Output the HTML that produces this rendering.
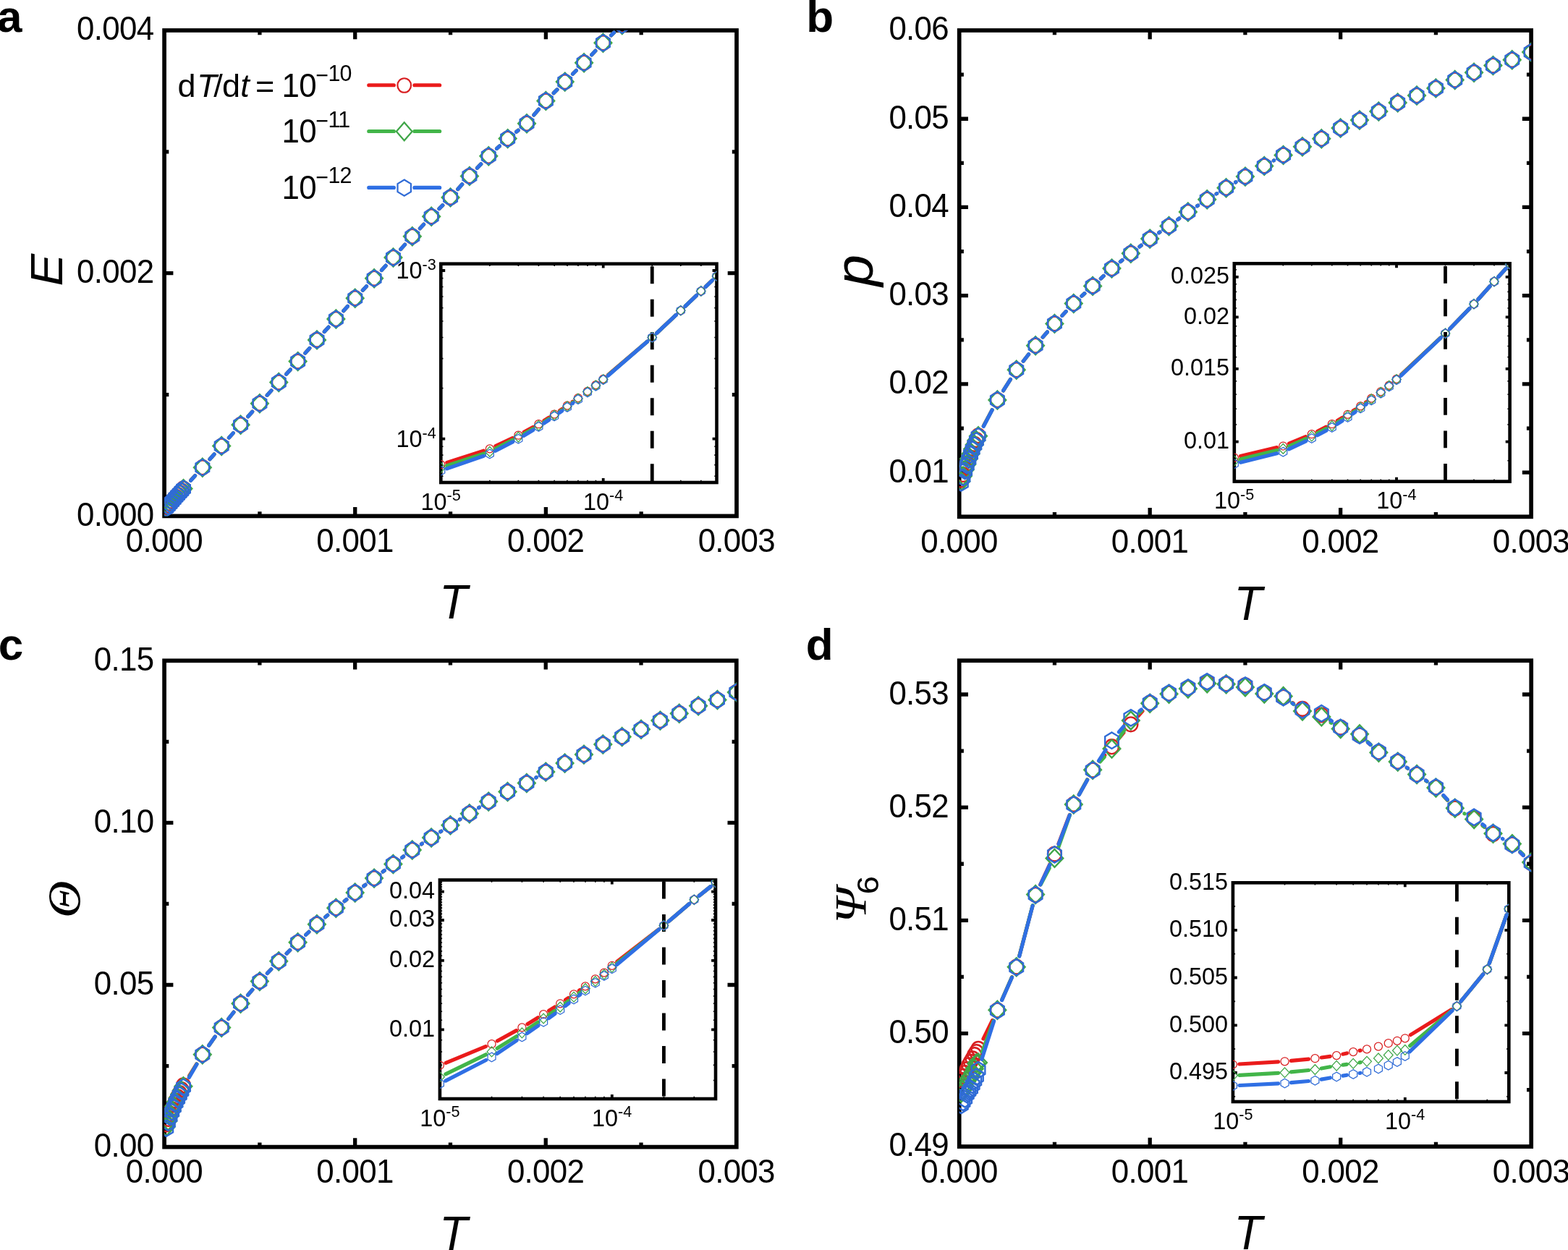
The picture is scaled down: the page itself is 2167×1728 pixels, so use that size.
<!DOCTYPE html>
<html lang="en">
<head>
<meta charset="utf-8">
<title>Figure: E, p, Theta, Psi6 versus T</title>
<style>
html,body{margin:0;padding:0;background:#fff;}
body{width:2167px;height:1728px;overflow:hidden;}
svg{display:block;}
text{font-family:"Liberation Sans", Arial, Helvetica, sans-serif;fill:#000;}
text.sf{font-family:"Liberation Serif","Times New Roman",Times,serif;}
</style>
</head>
<body>
<svg xmlns="http://www.w3.org/2000/svg" width="2167" height="1728" viewBox="0 0 2167 1728">
<rect width="2167" height="1728" fill="#fff"/>
<defs><clipPath id="ca"><rect x="227.1" y="42" width="790.9" height="671.4"/></clipPath><clipPath id="ia"><rect x="609.3" y="364.7" width="381.2" height="302.3"/></clipPath><clipPath id="cb"><rect x="1325.7" y="42" width="790.4" height="672.3"/></clipPath><clipPath id="ib"><rect x="1705.8" y="364.3" width="380.8" height="301.3"/></clipPath><clipPath id="cc"><rect x="227.1" y="913.3" width="790.7" height="672.3"/></clipPath><clipPath id="ic"><rect x="607.9" y="1216.5" width="381.1" height="302.5"/></clipPath><clipPath id="cd"><rect x="1325.7" y="913.2" width="790.5" height="671.8"/></clipPath><clipPath id="id"><rect x="1703.9" y="1220.3" width="381.4" height="302.7"/></clipPath></defs>

<!-- panel a -->
<rect x="227.1" y="42" width="790.9" height="671.4" stroke="#000" stroke-width="5.7" fill="none"/><path d="M490.73 713.4v-12.3M490.73 42v12.3M754.37 713.4v-12.3M754.37 42v12.3M358.92 713.4v-6.2M358.92 42v6.2M622.55 713.4v-6.2M622.55 42v6.2M886.18 713.4v-6.2M886.18 42v6.2M227.1 377.7h12.3M1018 377.7h-12.3M227.1 545.55h6.2M1018 545.55h-6.2M227.1 209.85h6.2M1018 209.85h-6.2" stroke="#000" stroke-width="5.3" fill="none"/><text x="238.84" y="763.1" font-size="46.2" text-anchor="middle" letter-spacing="-0.74" transform="scale(0.95 1)">0.000</text><text x="516.35" y="763.1" font-size="46.2" text-anchor="middle" letter-spacing="-0.74" transform="scale(0.95 1)">0.001</text><text x="793.86" y="763.1" font-size="46.2" text-anchor="middle" letter-spacing="-0.74" transform="scale(0.95 1)">0.002</text><text x="1071.37" y="763.1" font-size="46.2" text-anchor="middle" letter-spacing="-0.74" transform="scale(0.95 1)">0.003</text><text x="223.58" y="726.9" font-size="46.2" text-anchor="end" letter-spacing="-0.74" transform="scale(0.95 1)">0.000</text><text x="223.58" y="391.2" font-size="46.2" text-anchor="end" letter-spacing="-0.74" transform="scale(0.95 1)">0.002</text><text x="223.58" y="55.5" font-size="46.2" text-anchor="end" letter-spacing="-0.74" transform="scale(0.95 1)">0.004</text><rect x="609.3" y="364.7" width="381.2" height="302.3" stroke="#000" stroke-width="4.6" fill="none"/><path d="M833.7 667v-5.9M833.7 364.7v5.9M609.3 374h5.9M990.5 374h-5.9M609.3 606.6h5.9M990.5 606.6h-5.9" stroke="#000" stroke-width="3.8" fill="none"/><path d="M676.85 667v-3.2M676.85 364.7v3.2M716.37 667v-3.2M716.37 364.7v3.2M744.4 667v-3.2M744.4 364.7v3.2M766.15 667v-3.2M766.15 364.7v3.2M783.92 667v-3.2M783.92 364.7v3.2M798.94 667v-3.2M798.94 364.7v3.2M811.95 667v-3.2M811.95 364.7v3.2M823.43 667v-3.2M823.43 364.7v3.2M901.25 667v-3.2M901.25 364.7v3.2M940.77 667v-3.2M940.77 364.7v3.2M968.8 667v-3.2M968.8 364.7v3.2M609.3 658.2h3.2M990.5 658.2h-3.2M609.3 642.63h3.2M990.5 642.63h-3.2M609.3 629.14h3.2M990.5 629.14h-3.2M609.3 617.24h3.2M990.5 617.24h-3.2M609.3 536.58h3.2M990.5 536.58h-3.2M609.3 495.62h3.2M990.5 495.62h-3.2M609.3 466.56h3.2M990.5 466.56h-3.2M609.3 444.02h3.2M990.5 444.02h-3.2M609.3 425.6h3.2M990.5 425.6h-3.2M609.3 410.03h3.2M990.5 410.03h-3.2M609.3 396.54h3.2M990.5 396.54h-3.2M609.3 384.64h3.2M990.5 384.64h-3.2" stroke="#000" stroke-width="1.6" fill="none"/><text x="609.2" y="704.8" font-size="32.4" text-anchor="middle">10<tspan font-size="21.6" dy="-12.5">-5</tspan></text><text x="833.6" y="704.8" font-size="32.4" text-anchor="middle">10<tspan font-size="21.6" dy="-12.5">-4</tspan></text><text x="602.8" y="385.4" font-size="32.4" text-anchor="end">10<tspan font-size="21.6" dy="-12.5">-3</tspan></text><text x="602.8" y="618" font-size="32.4" text-anchor="end">10<tspan font-size="21.6" dy="-12.5">-4</tspan></text><g clip-path="url(#ca)" fill="none"><path d="M263.73 663.99L269.56 657.55M289.99 634.75L296.02 627.95M316.43 605.12L322.31 598.58M342.78 575.8L348.69 569.2M369.16 546.42L375.04 539.88M395.6 517.19L401.33 510.91M421.81 488.15L427.84 481.35M448.32 458.59L454.05 452.31M474.7 429.71L480.4 423.49M501.33 401.18L506.5 395.82M527.43 373.51L533.13 367.29M553.7 344.62L559.58 338.08M580.42 315.68L585.59 310.32M606.98 288.49L611.76 283.71M632.75 261.48L638.71 254.82M659.46 232.32L664.73 226.78M686.53 205.41L690.39 201.89M713.55 182.16L716.09 180.14M737.88 158.97L744.49 151.13M765.18 128.61L769.92 123.89M791.52 102.29L796.3 97.51M817.69 75.68L822.86 70.32M844.57 48.85L848.71 44.95M870.59 23.67L875.41 18.83M897.06 -2.72L901.67 -7.28M923.42 -28.72L928.04 -33.28M949.78 -54.72L954.4 -59.28M976.15 -80.72L980.76 -85.28M1002.51 -106.72L1007.13 -111.28" stroke="#ea1b1b" stroke-width="5.1" stroke-linecap="round"/><ellipse cx="229.74" cy="701.59" rx="9.45" ry="9.88" stroke="#d81e20" stroke-width="2.4"/><ellipse cx="232.37" cy="698.76" rx="9.45" ry="9.88" stroke="#d81e20" stroke-width="2.4"/><ellipse cx="235.01" cy="695.78" rx="9.45" ry="9.88" stroke="#d81e20" stroke-width="2.4"/><ellipse cx="237.65" cy="692.86" rx="9.45" ry="9.88" stroke="#d81e20" stroke-width="2.4"/><ellipse cx="240.28" cy="689.88" rx="9.45" ry="9.88" stroke="#d81e20" stroke-width="2.4"/><ellipse cx="242.92" cy="686.93" rx="9.45" ry="9.88" stroke="#d81e20" stroke-width="2.4"/><ellipse cx="245.55" cy="684.01" rx="9.45" ry="9.88" stroke="#d81e20" stroke-width="2.4"/><ellipse cx="248.19" cy="681.2" rx="9.45" ry="9.88" stroke="#d81e20" stroke-width="2.4"/><ellipse cx="250.83" cy="678.31" rx="9.45" ry="9.88" stroke="#d81e20" stroke-width="2.4"/><ellipse cx="253.46" cy="675.34" rx="9.45" ry="9.88" stroke="#d81e20" stroke-width="2.4"/><ellipse cx="279.83" cy="646.2" rx="9.45" ry="9.88" stroke="#d81e20" stroke-width="2.4"/><ellipse cx="306.19" cy="616.5" rx="9.45" ry="9.88" stroke="#d81e20" stroke-width="2.4"/><ellipse cx="332.55" cy="587.2" rx="9.45" ry="9.88" stroke="#d81e20" stroke-width="2.4"/><ellipse cx="358.92" cy="557.8" rx="9.45" ry="9.88" stroke="#d81e20" stroke-width="2.4"/><ellipse cx="385.28" cy="528.5" rx="9.45" ry="9.88" stroke="#d81e20" stroke-width="2.4"/><ellipse cx="411.64" cy="499.6" rx="9.45" ry="9.88" stroke="#d81e20" stroke-width="2.4"/><ellipse cx="438.01" cy="469.9" rx="9.45" ry="9.88" stroke="#d81e20" stroke-width="2.4"/><ellipse cx="464.37" cy="441" rx="9.45" ry="9.88" stroke="#d81e20" stroke-width="2.4"/><ellipse cx="490.73" cy="412.2" rx="9.45" ry="9.88" stroke="#d81e20" stroke-width="2.4"/><ellipse cx="517.1" cy="384.8" rx="9.45" ry="9.88" stroke="#d81e20" stroke-width="2.4"/><ellipse cx="543.46" cy="356" rx="9.45" ry="9.88" stroke="#d81e20" stroke-width="2.4"/><ellipse cx="569.82" cy="326.7" rx="9.45" ry="9.88" stroke="#d81e20" stroke-width="2.4"/><ellipse cx="596.19" cy="299.3" rx="9.45" ry="9.88" stroke="#d81e20" stroke-width="2.4"/><ellipse cx="622.55" cy="272.9" rx="9.45" ry="9.88" stroke="#d81e20" stroke-width="2.4"/><ellipse cx="648.91" cy="243.4" rx="9.45" ry="9.88" stroke="#d81e20" stroke-width="2.4"/><ellipse cx="675.28" cy="215.7" rx="9.45" ry="9.88" stroke="#d81e20" stroke-width="2.4"/><ellipse cx="701.64" cy="191.6" rx="9.45" ry="9.88" stroke="#d81e20" stroke-width="2.4"/><ellipse cx="728" cy="170.7" rx="9.45" ry="9.88" stroke="#d81e20" stroke-width="2.4"/><ellipse cx="754.37" cy="139.4" rx="9.45" ry="9.88" stroke="#d81e20" stroke-width="2.4"/><ellipse cx="780.73" cy="113.1" rx="9.45" ry="9.88" stroke="#d81e20" stroke-width="2.4"/><ellipse cx="807.09" cy="86.7" rx="9.45" ry="9.88" stroke="#d81e20" stroke-width="2.4"/><ellipse cx="833.46" cy="59.3" rx="9.45" ry="9.88" stroke="#d81e20" stroke-width="2.4"/><ellipse cx="859.82" cy="34.5" rx="9.45" ry="9.88" stroke="#d81e20" stroke-width="2.4"/><ellipse cx="886.18" cy="8" rx="9.45" ry="9.88" stroke="#d81e20" stroke-width="2.4"/><ellipse cx="912.55" cy="-18" rx="9.45" ry="9.88" stroke="#d81e20" stroke-width="2.4"/><ellipse cx="938.91" cy="-44" rx="9.45" ry="9.88" stroke="#d81e20" stroke-width="2.4"/><ellipse cx="965.27" cy="-70" rx="9.45" ry="9.88" stroke="#d81e20" stroke-width="2.4"/><ellipse cx="991.64" cy="-96" rx="9.45" ry="9.88" stroke="#d81e20" stroke-width="2.4"/><ellipse cx="1018" cy="-122" rx="9.45" ry="9.88" stroke="#d81e20" stroke-width="2.4"/><path d="M263.69 664.17L269.6 657.59M289.99 634.75L296.02 627.95M316.43 605.12L322.31 598.58M342.78 575.8L348.69 569.2M369.16 546.42L375.04 539.88M395.6 517.19L401.33 510.91M421.81 488.15L427.84 481.35M448.32 458.59L454.05 452.31M474.7 429.71L480.4 423.49M501.33 401.18L506.5 395.82M527.43 373.51L533.13 367.29M553.7 344.62L559.58 338.08M580.42 315.68L585.59 310.32M606.98 288.49L611.76 283.71M632.75 261.48L638.71 254.82M659.46 232.32L664.73 226.78M686.53 205.41L690.39 201.89M713.55 182.16L716.09 180.14M737.88 158.97L744.49 151.13M765.18 128.61L769.92 123.89M791.52 102.29L796.3 97.51M817.69 75.68L822.86 70.32M844.57 48.85L848.71 44.95M870.59 23.67L875.41 18.83M897.06 -2.72L901.67 -7.28M923.42 -28.72L928.04 -33.28M949.78 -54.72L954.4 -59.28M976.15 -80.72L980.76 -85.28M1002.51 -106.72L1007.13 -111.28" stroke="#42b549" stroke-width="5.1" stroke-linecap="round"/><polygon points="229.74,689.66 241.54,702.09 229.74,714.53 217.94,702.09" stroke="#3fa648" stroke-width="2.4"/><polygon points="232.37,686.89 244.17,699.33 232.37,711.76 220.57,699.33" stroke="#3fa648" stroke-width="2.4"/><polygon points="235.01,683.76 246.81,696.19 235.01,708.63 223.21,696.19" stroke="#3fa648" stroke-width="2.4"/><polygon points="237.65,680.85 249.45,693.28 237.65,705.72 225.85,693.28" stroke="#3fa648" stroke-width="2.4"/><polygon points="240.28,677.81 252.08,690.24 240.28,702.68 228.48,690.24" stroke="#3fa648" stroke-width="2.4"/><polygon points="242.92,674.81 254.72,687.25 242.92,699.68 231.12,687.25" stroke="#3fa648" stroke-width="2.4"/><polygon points="245.55,671.86 257.35,684.3 245.55,696.73 233.75,684.3" stroke="#3fa648" stroke-width="2.4"/><polygon points="248.19,669.02 259.99,681.46 248.19,693.89 236.39,681.46" stroke="#3fa648" stroke-width="2.4"/><polygon points="250.83,666.15 262.63,678.58 250.83,691.02 239.03,678.58" stroke="#3fa648" stroke-width="2.4"/><polygon points="253.46,663.13 265.26,675.57 253.46,688 241.66,675.57" stroke="#3fa648" stroke-width="2.4"/><polygon points="279.83,633.76 291.63,646.2 279.83,658.64 268.03,646.2" stroke="#3fa648" stroke-width="2.4"/><polygon points="306.19,604.06 317.99,616.5 306.19,628.94 294.39,616.5" stroke="#3fa648" stroke-width="2.4"/><polygon points="332.55,574.76 344.35,587.2 332.55,599.64 320.75,587.2" stroke="#3fa648" stroke-width="2.4"/><polygon points="358.92,545.36 370.72,557.8 358.92,570.24 347.12,557.8" stroke="#3fa648" stroke-width="2.4"/><polygon points="385.28,516.06 397.08,528.5 385.28,540.94 373.48,528.5" stroke="#3fa648" stroke-width="2.4"/><polygon points="411.64,487.16 423.44,499.6 411.64,512.04 399.84,499.6" stroke="#3fa648" stroke-width="2.4"/><polygon points="438.01,457.46 449.81,469.9 438.01,482.34 426.21,469.9" stroke="#3fa648" stroke-width="2.4"/><polygon points="464.37,428.56 476.17,441 464.37,453.44 452.57,441" stroke="#3fa648" stroke-width="2.4"/><polygon points="490.73,399.76 502.53,412.2 490.73,424.64 478.93,412.2" stroke="#3fa648" stroke-width="2.4"/><polygon points="517.1,372.36 528.9,384.8 517.1,397.24 505.3,384.8" stroke="#3fa648" stroke-width="2.4"/><polygon points="543.46,343.56 555.26,356 543.46,368.44 531.66,356" stroke="#3fa648" stroke-width="2.4"/><polygon points="569.82,314.26 581.62,326.7 569.82,339.14 558.02,326.7" stroke="#3fa648" stroke-width="2.4"/><polygon points="596.19,286.86 607.99,299.3 596.19,311.74 584.39,299.3" stroke="#3fa648" stroke-width="2.4"/><polygon points="622.55,260.46 634.35,272.9 622.55,285.34 610.75,272.9" stroke="#3fa648" stroke-width="2.4"/><polygon points="648.91,230.96 660.71,243.4 648.91,255.84 637.11,243.4" stroke="#3fa648" stroke-width="2.4"/><polygon points="675.28,203.26 687.08,215.7 675.28,228.14 663.48,215.7" stroke="#3fa648" stroke-width="2.4"/><polygon points="701.64,179.16 713.44,191.6 701.64,204.04 689.84,191.6" stroke="#3fa648" stroke-width="2.4"/><polygon points="728,158.26 739.8,170.7 728,183.14 716.2,170.7" stroke="#3fa648" stroke-width="2.4"/><polygon points="754.37,126.96 766.17,139.4 754.37,151.84 742.57,139.4" stroke="#3fa648" stroke-width="2.4"/><polygon points="780.73,100.66 792.53,113.1 780.73,125.54 768.93,113.1" stroke="#3fa648" stroke-width="2.4"/><polygon points="807.09,74.26 818.89,86.7 807.09,99.14 795.29,86.7" stroke="#3fa648" stroke-width="2.4"/><polygon points="833.46,46.86 845.26,59.3 833.46,71.74 821.66,59.3" stroke="#3fa648" stroke-width="2.4"/><polygon points="859.82,22.06 871.62,34.5 859.82,46.94 848.02,34.5" stroke="#3fa648" stroke-width="2.4"/><polygon points="886.18,-4.44 897.98,8 886.18,20.44 874.38,8" stroke="#3fa648" stroke-width="2.4"/><polygon points="912.55,-30.44 924.35,-18 912.55,-5.56 900.75,-18" stroke="#3fa648" stroke-width="2.4"/><polygon points="938.91,-56.44 950.71,-44 938.91,-31.56 927.11,-44" stroke="#3fa648" stroke-width="2.4"/><polygon points="965.27,-82.44 977.07,-70 965.27,-57.56 953.47,-70" stroke="#3fa648" stroke-width="2.4"/><polygon points="991.64,-108.44 1003.44,-96 991.64,-83.56 979.84,-96" stroke="#3fa648" stroke-width="2.4"/><polygon points="1018,-134.44 1029.8,-122 1018,-109.56 1006.2,-122" stroke="#3fa648" stroke-width="2.4"/><path d="M263.66 664.32L269.63 657.63M289.99 634.75L296.02 627.95M316.43 605.12L322.31 598.58M342.78 575.8L348.69 569.2M369.16 546.42L375.04 539.88M395.6 517.19L401.33 510.91M421.81 488.15L427.84 481.35M448.32 458.59L454.05 452.31M474.7 429.71L480.4 423.49M501.33 401.18L506.5 395.82M527.43 373.51L533.13 367.29M553.7 344.62L559.58 338.08M580.42 315.68L585.59 310.32M606.98 288.49L611.76 283.71M632.75 261.48L638.71 254.82M659.46 232.32L664.73 226.78M686.53 205.41L690.39 201.89M713.55 182.16L716.09 180.14M737.88 158.97L744.49 151.13M765.18 128.61L769.92 123.89M791.52 102.29L796.3 97.51M817.69 75.68L822.86 70.32M844.57 48.85L848.71 44.95M870.59 23.67L875.41 18.83M897.06 -2.72L901.67 -7.28M923.42 -28.72L928.04 -33.28M949.78 -54.72L954.4 -59.28M976.15 -80.72L980.76 -85.28M1002.51 -106.72L1007.13 -111.28" stroke="#2f6fe4" stroke-width="5.1" stroke-linecap="round"/><polygon points="229.74,691.33 239.05,696.95 239.05,708.18 229.74,713.8 220.43,708.18 220.43,696.95" stroke="#2f6bd6" stroke-width="2.4"/><polygon points="232.37,688.5 241.68,694.12 241.68,705.36 232.37,710.97 223.06,705.36 223.06,694.12" stroke="#2f6bd6" stroke-width="2.4"/><polygon points="235.01,685.41 244.32,691.03 244.32,702.27 235.01,707.88 225.7,702.27 225.7,691.03" stroke="#2f6bd6" stroke-width="2.4"/><polygon points="237.65,682.36 246.96,687.98 246.96,699.21 237.65,704.83 228.34,699.21 228.34,687.98" stroke="#2f6bd6" stroke-width="2.4"/><polygon points="240.28,679.35 249.59,684.97 249.59,696.2 240.28,701.82 230.97,696.2 230.97,684.97" stroke="#2f6bd6" stroke-width="2.4"/><polygon points="242.92,676.32 252.23,681.94 252.23,693.17 242.92,698.79 233.61,693.17 233.61,681.94" stroke="#2f6bd6" stroke-width="2.4"/><polygon points="245.55,673.41 254.86,679.02 254.86,690.26 245.55,695.87 236.24,690.26 236.24,679.02" stroke="#2f6bd6" stroke-width="2.4"/><polygon points="248.19,670.48 257.5,676.09 257.5,687.33 248.19,692.94 238.88,687.33 238.88,676.09" stroke="#2f6bd6" stroke-width="2.4"/><polygon points="250.83,667.63 260.14,673.24 260.14,684.48 250.83,690.09 241.52,684.48 241.52,673.24" stroke="#2f6bd6" stroke-width="2.4"/><polygon points="253.46,664.52 262.77,670.14 262.77,681.37 253.46,686.99 244.15,681.37 244.15,670.14" stroke="#2f6bd6" stroke-width="2.4"/><polygon points="279.83,634.97 289.14,640.58 289.14,651.82 279.83,657.43 270.52,651.82 270.52,640.58" stroke="#2f6bd6" stroke-width="2.4"/><polygon points="306.19,605.27 315.5,610.88 315.5,622.12 306.19,627.73 296.88,622.12 296.88,610.88" stroke="#2f6bd6" stroke-width="2.4"/><polygon points="332.55,575.97 341.86,581.58 341.86,592.82 332.55,598.43 323.24,592.82 323.24,581.58" stroke="#2f6bd6" stroke-width="2.4"/><polygon points="358.92,546.57 368.23,552.18 368.23,563.42 358.92,569.03 349.61,563.42 349.61,552.18" stroke="#2f6bd6" stroke-width="2.4"/><polygon points="385.28,517.27 394.59,522.88 394.59,534.12 385.28,539.73 375.97,534.12 375.97,522.88" stroke="#2f6bd6" stroke-width="2.4"/><polygon points="411.64,488.37 420.95,493.98 420.95,505.22 411.64,510.83 402.33,505.22 402.33,493.98" stroke="#2f6bd6" stroke-width="2.4"/><polygon points="438.01,458.67 447.32,464.28 447.32,475.52 438.01,481.13 428.7,475.52 428.7,464.28" stroke="#2f6bd6" stroke-width="2.4"/><polygon points="464.37,429.77 473.68,435.38 473.68,446.62 464.37,452.23 455.06,446.62 455.06,435.38" stroke="#2f6bd6" stroke-width="2.4"/><polygon points="490.73,400.97 500.04,406.58 500.04,417.82 490.73,423.43 481.42,417.82 481.42,406.58" stroke="#2f6bd6" stroke-width="2.4"/><polygon points="517.1,373.57 526.41,379.18 526.41,390.42 517.1,396.03 507.79,390.42 507.79,379.18" stroke="#2f6bd6" stroke-width="2.4"/><polygon points="543.46,344.77 552.77,350.38 552.77,361.62 543.46,367.23 534.15,361.62 534.15,350.38" stroke="#2f6bd6" stroke-width="2.4"/><polygon points="569.82,315.47 579.13,321.08 579.13,332.32 569.82,337.93 560.51,332.32 560.51,321.08" stroke="#2f6bd6" stroke-width="2.4"/><polygon points="596.19,288.07 605.5,293.68 605.5,304.92 596.19,310.53 586.88,304.92 586.88,293.68" stroke="#2f6bd6" stroke-width="2.4"/><polygon points="622.55,261.67 631.86,267.28 631.86,278.52 622.55,284.13 613.24,278.52 613.24,267.28" stroke="#2f6bd6" stroke-width="2.4"/><polygon points="648.91,232.17 658.22,237.78 658.22,249.02 648.91,254.63 639.6,249.02 639.6,237.78" stroke="#2f6bd6" stroke-width="2.4"/><polygon points="675.28,204.47 684.59,210.08 684.59,221.32 675.28,226.93 665.97,221.32 665.97,210.08" stroke="#2f6bd6" stroke-width="2.4"/><polygon points="701.64,180.37 710.95,185.98 710.95,197.22 701.64,202.83 692.33,197.22 692.33,185.98" stroke="#2f6bd6" stroke-width="2.4"/><polygon points="728,159.47 737.31,165.08 737.31,176.32 728,181.93 718.69,176.32 718.69,165.08" stroke="#2f6bd6" stroke-width="2.4"/><polygon points="754.37,128.17 763.68,133.78 763.68,145.02 754.37,150.63 745.06,145.02 745.06,133.78" stroke="#2f6bd6" stroke-width="2.4"/><polygon points="780.73,101.87 790.04,107.48 790.04,118.72 780.73,124.33 771.42,118.72 771.42,107.48" stroke="#2f6bd6" stroke-width="2.4"/><polygon points="807.09,75.47 816.4,81.08 816.4,92.32 807.09,97.93 797.78,92.32 797.78,81.08" stroke="#2f6bd6" stroke-width="2.4"/><polygon points="833.46,48.07 842.77,53.68 842.77,64.92 833.46,70.53 824.15,64.92 824.15,53.68" stroke="#2f6bd6" stroke-width="2.4"/><polygon points="859.82,23.27 869.13,28.88 869.13,40.12 859.82,45.73 850.51,40.12 850.51,28.88" stroke="#2f6bd6" stroke-width="2.4"/><polygon points="886.18,-3.23 895.49,2.38 895.49,13.62 886.18,19.23 876.87,13.62 876.87,2.38" stroke="#2f6bd6" stroke-width="2.4"/><polygon points="912.55,-29.23 921.86,-23.62 921.86,-12.38 912.55,-6.77 903.24,-12.38 903.24,-23.62" stroke="#2f6bd6" stroke-width="2.4"/><polygon points="938.91,-55.23 948.22,-49.62 948.22,-38.38 938.91,-32.77 929.6,-38.38 929.6,-49.62" stroke="#2f6bd6" stroke-width="2.4"/><polygon points="965.27,-81.23 974.58,-75.62 974.58,-64.38 965.27,-58.77 955.96,-64.38 955.96,-75.62" stroke="#2f6bd6" stroke-width="2.4"/><polygon points="991.64,-107.23 1000.95,-101.62 1000.95,-90.38 991.64,-84.77 982.33,-90.38 982.33,-101.62" stroke="#2f6bd6" stroke-width="2.4"/><polygon points="1018,-133.23 1027.31,-127.62 1027.31,-116.38 1018,-110.77 1008.69,-116.38 1008.69,-127.62" stroke="#2f6bd6" stroke-width="2.4"/></g><g clip-path="url(#ia)" fill="none"><path d="M901.25 368.3V667" stroke="#000" stroke-width="4.8" stroke-dasharray="23.9 21.6"/><path d="M617.77 639.38L668.38 623.12M684.9 616.59L708.32 605.51M724.15 597.39L736.61 590.51M751.93 581.46L758.62 577.24M773.54 567.55L776.52 565.55M791.19 555.47L791.67 555.13M840.48 518.14L894.47 472.26M907.73 460.4L934.29 435.4M947.19 423.14L962.38 408.56M975.25 396.26L984.1 387.84" stroke="#ea1b1b" stroke-width="5.2" stroke-linecap="round"/><circle cx="609.3" cy="642.1" r="5.5" stroke="#d81e20" stroke-width="1.25"/><circle cx="676.85" cy="620.4" r="5.5" stroke="#d81e20" stroke-width="1.25"/><circle cx="716.37" cy="601.7" r="5.5" stroke="#d81e20" stroke-width="1.25"/><circle cx="744.4" cy="586.2" r="5.5" stroke="#d81e20" stroke-width="1.25"/><circle cx="766.15" cy="572.5" r="5.5" stroke="#d81e20" stroke-width="1.25"/><circle cx="783.92" cy="560.6" r="5.5" stroke="#d81e20" stroke-width="1.25"/><circle cx="798.94" cy="550" r="5.5" stroke="#d81e20" stroke-width="1.25"/><circle cx="811.95" cy="540.8" r="5.5" stroke="#d81e20" stroke-width="1.25"/><circle cx="823.43" cy="532.1" r="5.5" stroke="#d81e20" stroke-width="1.25"/><circle cx="833.7" cy="523.9" r="5.5" stroke="#d81e20" stroke-width="1.25"/><circle cx="901.25" cy="466.5" r="5.5" stroke="#d81e20" stroke-width="1.25"/><circle cx="940.77" cy="429.3" r="5.5" stroke="#d81e20" stroke-width="1.25"/><circle cx="968.8" cy="402.4" r="5.5" stroke="#d81e20" stroke-width="1.25"/><circle cx="990.55" cy="381.7" r="5.5" stroke="#d81e20" stroke-width="1.25"/><path d="M617.76 643.73L668.39 627.17M684.77 620.33L708.45 608.17M724.12 599.73L736.65 592.67M751.85 583.43L758.7 578.97M773.47 569.03L776.6 566.87M791.14 556.6L791.71 556.2M840.45 518.7L894.5 472.3M907.73 460.4L934.29 435.4M947.19 423.14L962.38 408.56M975.25 396.26L984.1 387.84" stroke="#42b549" stroke-width="5.2" stroke-linecap="round"/><polygon points="609.3,639.6 615.7,646.5 609.3,653.4 602.9,646.5" stroke="#3fa648" stroke-width="1.25"/><polygon points="676.85,617.5 683.25,624.4 676.85,631.3 670.45,624.4" stroke="#3fa648" stroke-width="1.25"/><polygon points="716.37,597.2 722.77,604.1 716.37,611 709.97,604.1" stroke="#3fa648" stroke-width="1.25"/><polygon points="744.4,581.4 750.8,588.3 744.4,595.2 738,588.3" stroke="#3fa648" stroke-width="1.25"/><polygon points="766.15,567.2 772.55,574.1 766.15,581 759.75,574.1" stroke="#3fa648" stroke-width="1.25"/><polygon points="783.92,554.9 790.32,561.8 783.92,568.7 777.52,561.8" stroke="#3fa648" stroke-width="1.25"/><polygon points="798.94,544.1 805.34,551 798.94,557.9 792.54,551" stroke="#3fa648" stroke-width="1.25"/><polygon points="811.95,534.7 818.35,541.6 811.95,548.5 805.55,541.6" stroke="#3fa648" stroke-width="1.25"/><polygon points="823.43,526 829.83,532.9 823.43,539.8 817.03,532.9" stroke="#3fa648" stroke-width="1.25"/><polygon points="833.7,517.6 840.1,524.5 833.7,531.4 827.3,524.5" stroke="#3fa648" stroke-width="1.25"/><polygon points="901.25,459.6 907.65,466.5 901.25,473.4 894.85,466.5" stroke="#3fa648" stroke-width="1.25"/><polygon points="940.77,422.4 947.17,429.3 940.77,436.2 934.37,429.3" stroke="#3fa648" stroke-width="1.25"/><polygon points="968.8,395.5 975.2,402.4 968.8,409.3 962.4,402.4" stroke="#3fa648" stroke-width="1.25"/><polygon points="990.55,374.8 996.95,381.7 990.55,388.6 984.15,381.7" stroke="#3fa648" stroke-width="1.25"/><path d="M617.71 647.89L668.44 630.31M684.74 623.29L708.47 610.91M723.99 602.21L736.78 594.49M751.84 585.01L758.71 580.49M773.41 570.45L776.66 568.15M791.14 557.8L791.71 557.4M840.43 519.17L894.52 472.33M907.73 460.4L934.29 435.4M947.19 423.14L962.38 408.56M975.25 396.26L984.1 387.84" stroke="#2f6fe4" stroke-width="5.2" stroke-linecap="round"/><polygon points="609.3,644.5 614.76,647.65 614.76,653.95 609.3,657.1 603.84,653.95 603.84,647.65" stroke="#2f6bd6" stroke-width="1.25"/><polygon points="676.85,621.1 682.31,624.25 682.31,630.55 676.85,633.7 671.4,630.55 671.4,624.25" stroke="#2f6bd6" stroke-width="1.25"/><polygon points="716.37,600.5 721.82,603.65 721.82,609.95 716.37,613.1 710.91,609.95 710.91,603.65" stroke="#2f6bd6" stroke-width="1.25"/><polygon points="744.4,583.6 749.86,586.75 749.86,593.05 744.4,596.2 738.95,593.05 738.95,586.75" stroke="#2f6bd6" stroke-width="1.25"/><polygon points="766.15,569.3 771.6,572.45 771.6,578.75 766.15,581.9 760.69,578.75 760.69,572.45" stroke="#2f6bd6" stroke-width="1.25"/><polygon points="783.92,556.7 789.37,559.85 789.37,566.15 783.92,569.3 778.46,566.15 778.46,559.85" stroke="#2f6bd6" stroke-width="1.25"/><polygon points="798.94,545.9 804.4,549.05 804.4,555.35 798.94,558.5 793.48,555.35 793.48,549.05" stroke="#2f6bd6" stroke-width="1.25"/><polygon points="811.95,536.1 817.41,539.25 817.41,545.55 811.95,548.7 806.5,545.55 806.5,539.25" stroke="#2f6bd6" stroke-width="1.25"/><polygon points="823.43,527.4 828.89,530.55 828.89,536.85 823.43,540 817.98,536.85 817.98,530.55" stroke="#2f6bd6" stroke-width="1.25"/><polygon points="833.7,518.7 839.16,521.85 839.16,528.15 833.7,531.3 828.24,528.15 828.24,521.85" stroke="#2f6bd6" stroke-width="1.25"/><polygon points="901.25,460.2 906.71,463.35 906.71,469.65 901.25,472.8 895.8,469.65 895.8,463.35" stroke="#2f6bd6" stroke-width="1.25"/><polygon points="940.77,423 946.22,426.15 946.22,432.45 940.77,435.6 935.31,432.45 935.31,426.15" stroke="#2f6bd6" stroke-width="1.25"/><polygon points="968.8,396.1 974.26,399.25 974.26,405.55 968.8,408.7 963.35,405.55 963.35,399.25" stroke="#2f6bd6" stroke-width="1.25"/><polygon points="990.55,375.4 996,378.55 996,384.85 990.55,388 985.09,384.85 985.09,378.55" stroke="#2f6bd6" stroke-width="1.25"/></g>
<!-- panel b -->
<rect x="1325.7" y="42" width="790.4" height="672.3" stroke="#000" stroke-width="5.7" fill="none"/><path d="M1589.17 714.3v-12.3M1589.17 42v12.3M1852.63 714.3v-12.3M1852.63 42v12.3M1457.43 714.3v-6.2M1457.43 42v6.2M1720.9 714.3v-6.2M1720.9 42v6.2M1984.37 714.3v-6.2M1984.37 42v6.2M1325.7 653.18h12.3M2116.1 653.18h-12.3M1325.7 530.94h12.3M2116.1 530.94h-12.3M1325.7 408.71h12.3M2116.1 408.71h-12.3M1325.7 286.47h12.3M2116.1 286.47h-12.3M1325.7 164.24h12.3M2116.1 164.24h-12.3M1325.7 592.06h6.2M2116.1 592.06h-6.2M1325.7 469.83h6.2M2116.1 469.83h-6.2M1325.7 347.59h6.2M2116.1 347.59h-6.2M1325.7 225.35h6.2M2116.1 225.35h-6.2M1325.7 103.12h6.2M2116.1 103.12h-6.2" stroke="#000" stroke-width="5.3" fill="none"/><text x="1395.26" y="764" font-size="46.2" text-anchor="middle" letter-spacing="-0.74" transform="scale(0.95 1)">0.000</text><text x="1672.6" y="764" font-size="46.2" text-anchor="middle" letter-spacing="-0.74" transform="scale(0.95 1)">0.001</text><text x="1949.93" y="764" font-size="46.2" text-anchor="middle" letter-spacing="-0.74" transform="scale(0.95 1)">0.002</text><text x="2227.26" y="764" font-size="46.2" text-anchor="middle" letter-spacing="-0.74" transform="scale(0.95 1)">0.003</text><text x="1380" y="666.68" font-size="46.2" text-anchor="end" letter-spacing="-0.74" transform="scale(0.95 1)">0.01</text><text x="1380" y="544.44" font-size="46.2" text-anchor="end" letter-spacing="-0.74" transform="scale(0.95 1)">0.02</text><text x="1380" y="422.21" font-size="46.2" text-anchor="end" letter-spacing="-0.74" transform="scale(0.95 1)">0.03</text><text x="1380" y="299.97" font-size="46.2" text-anchor="end" letter-spacing="-0.74" transform="scale(0.95 1)">0.04</text><text x="1380" y="177.74" font-size="46.2" text-anchor="end" letter-spacing="-0.74" transform="scale(0.95 1)">0.05</text><text x="1380" y="55.5" font-size="46.2" text-anchor="end" letter-spacing="-0.74" transform="scale(0.95 1)">0.06</text><rect x="1705.8" y="364.3" width="380.8" height="301.3" stroke="#000" stroke-width="4.6" fill="none"/><path d="M1930 665.6v-5.9M1930 364.3v5.9M1705.8 382.8h5.9M2086.6 382.8h-5.9M1705.8 438.3h5.9M2086.6 438.3h-5.9M1705.8 509.9h5.9M2086.6 509.9h-5.9M1705.8 610.6h5.9M2086.6 610.6h-5.9" stroke="#000" stroke-width="3.8" fill="none"/><path d="M1773.29 665.6v-3.2M1773.29 364.3v3.2M1812.77 665.6v-3.2M1812.77 364.3v3.2M1840.78 665.6v-3.2M1840.78 364.3v3.2M1862.51 665.6v-3.2M1862.51 364.3v3.2M1880.26 665.6v-3.2M1880.26 364.3v3.2M1895.27 665.6v-3.2M1895.27 364.3v3.2M1908.27 665.6v-3.2M1908.27 364.3v3.2M1919.74 665.6v-3.2M1919.74 364.3v3.2M1997.49 665.6v-3.2M1997.49 364.3v3.2M2036.97 665.6v-3.2M2036.97 364.3v3.2M2064.98 665.6v-3.2M2064.98 364.3v3.2M1705.8 636.82h3.2M2086.6 636.82h-3.2M1705.8 610.6h3.2M2086.6 610.6h-3.2M1705.8 586.88h3.2M2086.6 586.88h-3.2M1705.8 565.23h3.2M2086.6 565.23h-3.2M1705.8 545.31h3.2M2086.6 545.31h-3.2M1705.8 526.87h3.2M2086.6 526.87h-3.2M1705.8 509.7h3.2M2086.6 509.7h-3.2M1705.8 493.64h3.2M2086.6 493.64h-3.2M1705.8 478.55h3.2M2086.6 478.55h-3.2M1705.8 464.33h3.2M2086.6 464.33h-3.2M1705.8 450.87h3.2M2086.6 450.87h-3.2M1705.8 438.11h3.2M2086.6 438.11h-3.2M1705.8 425.97h3.2M2086.6 425.97h-3.2M1705.8 414.39h3.2M2086.6 414.39h-3.2M1705.8 403.33h3.2M2086.6 403.33h-3.2M1705.8 392.74h3.2M2086.6 392.74h-3.2M1705.8 382.58h3.2M2086.6 382.58h-3.2M1705.8 372.82h3.2M2086.6 372.82h-3.2" stroke="#000" stroke-width="1.6" fill="none"/><text x="1705.7" y="703.4" font-size="32.4" text-anchor="middle">10<tspan font-size="21.6" dy="-12.5">-5</tspan></text><text x="1929.9" y="703.4" font-size="32.4" text-anchor="middle">10<tspan font-size="21.6" dy="-12.5">-4</tspan></text><text x="1699" y="392" font-size="32.4" text-anchor="end">0.025</text><text x="1699" y="447.5" font-size="32.4" text-anchor="end">0.02</text><text x="1699" y="519.1" font-size="32.4" text-anchor="end">0.015</text><text x="1699" y="619.8" font-size="32.4" text-anchor="end">0.01</text><g clip-path="url(#cb)" fill="none"><path d="M1359.34 588.6L1371.1 566.64M1386.63 539.96L1396.5 524.34M1414.22 499.22L1421.61 489.78M1441.14 466.14L1447.38 458.96M1467.93 436.28L1473.28 430.62M1495.03 409.21L1498.88 405.69M1521.34 385.06L1525.26 381.44M1548.38 361.65L1550.91 359.65M1574.89 340.99L1577.09 339.31M1601.76 321.69L1602.92 320.91M1627.71 303.47L1629.66 302.03M1654.54 284.72L1655.53 284.08M1681.11 267.91L1681.65 267.59M1707.56 252L1707.89 251.8M1760.37 221.93L1760.47 221.87" stroke="#ea1b1b" stroke-width="5.1" stroke-linecap="round"/><ellipse cx="1328.33" cy="663.52" rx="9.45" ry="9.88" stroke="#d81e20" stroke-width="2.4"/><ellipse cx="1330.97" cy="656.04" rx="9.45" ry="9.88" stroke="#d81e20" stroke-width="2.4"/><ellipse cx="1333.6" cy="647.96" rx="9.45" ry="9.88" stroke="#d81e20" stroke-width="2.4"/><ellipse cx="1336.24" cy="640.59" rx="9.45" ry="9.88" stroke="#d81e20" stroke-width="2.4"/><ellipse cx="1338.87" cy="633.13" rx="9.45" ry="9.88" stroke="#d81e20" stroke-width="2.4"/><ellipse cx="1341.51" cy="626.46" rx="9.45" ry="9.88" stroke="#d81e20" stroke-width="2.4"/><ellipse cx="1344.14" cy="619.85" rx="9.45" ry="9.88" stroke="#d81e20" stroke-width="2.4"/><ellipse cx="1346.78" cy="613.93" rx="9.45" ry="9.88" stroke="#d81e20" stroke-width="2.4"/><ellipse cx="1349.41" cy="608.18" rx="9.45" ry="9.88" stroke="#d81e20" stroke-width="2.4"/><ellipse cx="1352.05" cy="602.23" rx="9.45" ry="9.88" stroke="#d81e20" stroke-width="2.4"/><ellipse cx="1378.39" cy="553" rx="9.45" ry="9.88" stroke="#d81e20" stroke-width="2.4"/><ellipse cx="1404.74" cy="511.3" rx="9.45" ry="9.88" stroke="#d81e20" stroke-width="2.4"/><ellipse cx="1431.09" cy="477.7" rx="9.45" ry="9.88" stroke="#d81e20" stroke-width="2.4"/><ellipse cx="1457.43" cy="447.4" rx="9.45" ry="9.88" stroke="#d81e20" stroke-width="2.4"/><ellipse cx="1483.78" cy="419.5" rx="9.45" ry="9.88" stroke="#d81e20" stroke-width="2.4"/><ellipse cx="1510.13" cy="395.4" rx="9.45" ry="9.88" stroke="#d81e20" stroke-width="2.4"/><ellipse cx="1536.47" cy="371.1" rx="9.45" ry="9.88" stroke="#d81e20" stroke-width="2.4"/><ellipse cx="1562.82" cy="350.2" rx="9.45" ry="9.88" stroke="#d81e20" stroke-width="2.4"/><ellipse cx="1589.17" cy="330.1" rx="9.45" ry="9.88" stroke="#d81e20" stroke-width="2.4"/><ellipse cx="1615.51" cy="312.5" rx="9.45" ry="9.88" stroke="#d81e20" stroke-width="2.4"/><ellipse cx="1641.86" cy="293" rx="9.45" ry="9.88" stroke="#d81e20" stroke-width="2.4"/><ellipse cx="1668.21" cy="275.8" rx="9.45" ry="9.88" stroke="#d81e20" stroke-width="2.4"/><ellipse cx="1694.55" cy="259.7" rx="9.45" ry="9.88" stroke="#d81e20" stroke-width="2.4"/><ellipse cx="1720.9" cy="244.1" rx="9.45" ry="9.88" stroke="#d81e20" stroke-width="2.4"/><ellipse cx="1747.25" cy="229.4" rx="9.45" ry="9.88" stroke="#d81e20" stroke-width="2.4"/><ellipse cx="1773.59" cy="214.4" rx="9.45" ry="9.88" stroke="#d81e20" stroke-width="2.4"/><ellipse cx="1799.94" cy="202.7" rx="9.45" ry="9.88" stroke="#d81e20" stroke-width="2.4"/><ellipse cx="1826.29" cy="191.7" rx="9.45" ry="9.88" stroke="#d81e20" stroke-width="2.4"/><ellipse cx="1852.63" cy="177" rx="9.45" ry="9.88" stroke="#d81e20" stroke-width="2.4"/><ellipse cx="1878.98" cy="166" rx="9.45" ry="9.88" stroke="#d81e20" stroke-width="2.4"/><ellipse cx="1905.33" cy="154" rx="9.45" ry="9.88" stroke="#d81e20" stroke-width="2.4"/><ellipse cx="1931.67" cy="141.9" rx="9.45" ry="9.88" stroke="#d81e20" stroke-width="2.4"/><ellipse cx="1958.02" cy="132" rx="9.45" ry="9.88" stroke="#d81e20" stroke-width="2.4"/><ellipse cx="1984.37" cy="121.9" rx="9.45" ry="9.88" stroke="#d81e20" stroke-width="2.4"/><ellipse cx="2010.71" cy="110.5" rx="9.45" ry="9.88" stroke="#d81e20" stroke-width="2.4"/><ellipse cx="2037.06" cy="100.2" rx="9.45" ry="9.88" stroke="#d81e20" stroke-width="2.4"/><ellipse cx="2063.41" cy="90.6" rx="9.45" ry="9.88" stroke="#d81e20" stroke-width="2.4"/><ellipse cx="2089.75" cy="82.8" rx="9.45" ry="9.88" stroke="#d81e20" stroke-width="2.4"/><ellipse cx="2116.1" cy="72.1" rx="9.45" ry="9.88" stroke="#d81e20" stroke-width="2.4"/><path d="M1359.3 588.99L1371.14 566.66M1386.63 539.96L1396.5 524.34M1414.22 499.22L1421.61 489.78M1441.14 466.14L1447.38 458.96M1467.93 436.28L1473.28 430.62M1495.03 409.21L1498.88 405.69M1521.34 385.06L1525.26 381.44M1548.38 361.65L1550.91 359.65M1574.89 340.99L1577.09 339.31M1601.76 321.69L1602.92 320.91M1627.71 303.47L1629.66 302.03M1654.54 284.72L1655.53 284.08M1681.11 267.91L1681.65 267.59M1707.56 252L1707.89 251.8M1760.37 221.93L1760.47 221.87" stroke="#42b549" stroke-width="5.1" stroke-linecap="round"/><polygon points="1328.33,653.05 1340.13,665.48 1328.33,677.92 1316.53,665.48" stroke="#3fa648" stroke-width="2.4"/><polygon points="1330.97,645.46 1342.77,657.9 1330.97,670.34 1319.17,657.9" stroke="#3fa648" stroke-width="2.4"/><polygon points="1333.6,636.95 1345.4,649.39 1333.6,661.82 1321.8,649.39" stroke="#3fa648" stroke-width="2.4"/><polygon points="1336.24,629.45 1348.04,641.88 1336.24,654.32 1324.44,641.88" stroke="#3fa648" stroke-width="2.4"/><polygon points="1338.87,621.83 1350.67,634.27 1338.87,646.7 1327.07,634.27" stroke="#3fa648" stroke-width="2.4"/><polygon points="1341.51,614.98 1353.31,627.41 1341.51,639.85 1329.71,627.41" stroke="#3fa648" stroke-width="2.4"/><polygon points="1344.14,608.23 1355.94,620.66 1344.14,633.1 1332.34,620.66" stroke="#3fa648" stroke-width="2.4"/><polygon points="1346.78,602.2 1358.58,614.64 1346.78,627.08 1334.98,614.64" stroke="#3fa648" stroke-width="2.4"/><polygon points="1349.41,596.28 1361.21,608.72 1349.41,621.15 1337.61,608.72" stroke="#3fa648" stroke-width="2.4"/><polygon points="1352.05,590.21 1363.85,602.65 1352.05,615.08 1340.25,602.65" stroke="#3fa648" stroke-width="2.4"/><polygon points="1378.39,540.56 1390.19,553 1378.39,565.44 1366.59,553" stroke="#3fa648" stroke-width="2.4"/><polygon points="1404.74,498.86 1416.54,511.3 1404.74,523.74 1392.94,511.3" stroke="#3fa648" stroke-width="2.4"/><polygon points="1431.09,465.26 1442.89,477.7 1431.09,490.14 1419.29,477.7" stroke="#3fa648" stroke-width="2.4"/><polygon points="1457.43,434.96 1469.23,447.4 1457.43,459.84 1445.63,447.4" stroke="#3fa648" stroke-width="2.4"/><polygon points="1483.78,407.06 1495.58,419.5 1483.78,431.94 1471.98,419.5" stroke="#3fa648" stroke-width="2.4"/><polygon points="1510.13,382.96 1521.93,395.4 1510.13,407.84 1498.33,395.4" stroke="#3fa648" stroke-width="2.4"/><polygon points="1536.47,358.66 1548.27,371.1 1536.47,383.54 1524.67,371.1" stroke="#3fa648" stroke-width="2.4"/><polygon points="1562.82,337.76 1574.62,350.2 1562.82,362.64 1551.02,350.2" stroke="#3fa648" stroke-width="2.4"/><polygon points="1589.17,317.66 1600.97,330.1 1589.17,342.54 1577.37,330.1" stroke="#3fa648" stroke-width="2.4"/><polygon points="1615.51,300.06 1627.31,312.5 1615.51,324.94 1603.71,312.5" stroke="#3fa648" stroke-width="2.4"/><polygon points="1641.86,280.56 1653.66,293 1641.86,305.44 1630.06,293" stroke="#3fa648" stroke-width="2.4"/><polygon points="1668.21,263.36 1680.01,275.8 1668.21,288.24 1656.41,275.8" stroke="#3fa648" stroke-width="2.4"/><polygon points="1694.55,247.26 1706.35,259.7 1694.55,272.14 1682.75,259.7" stroke="#3fa648" stroke-width="2.4"/><polygon points="1720.9,231.66 1732.7,244.1 1720.9,256.54 1709.1,244.1" stroke="#3fa648" stroke-width="2.4"/><polygon points="1747.25,216.96 1759.05,229.4 1747.25,241.84 1735.45,229.4" stroke="#3fa648" stroke-width="2.4"/><polygon points="1773.59,201.96 1785.39,214.4 1773.59,226.84 1761.79,214.4" stroke="#3fa648" stroke-width="2.4"/><polygon points="1799.94,190.26 1811.74,202.7 1799.94,215.14 1788.14,202.7" stroke="#3fa648" stroke-width="2.4"/><polygon points="1826.29,179.26 1838.09,191.7 1826.29,204.14 1814.49,191.7" stroke="#3fa648" stroke-width="2.4"/><polygon points="1852.63,164.56 1864.43,177 1852.63,189.44 1840.83,177" stroke="#3fa648" stroke-width="2.4"/><polygon points="1878.98,153.56 1890.78,166 1878.98,178.44 1867.18,166" stroke="#3fa648" stroke-width="2.4"/><polygon points="1905.33,141.56 1917.13,154 1905.33,166.44 1893.53,154" stroke="#3fa648" stroke-width="2.4"/><polygon points="1931.67,129.46 1943.47,141.9 1931.67,154.34 1919.87,141.9" stroke="#3fa648" stroke-width="2.4"/><polygon points="1958.02,119.56 1969.82,132 1958.02,144.44 1946.22,132" stroke="#3fa648" stroke-width="2.4"/><polygon points="1984.37,109.46 1996.17,121.9 1984.37,134.34 1972.57,121.9" stroke="#3fa648" stroke-width="2.4"/><polygon points="2010.71,98.06 2022.51,110.5 2010.71,122.94 1998.91,110.5" stroke="#3fa648" stroke-width="2.4"/><polygon points="2037.06,87.76 2048.86,100.2 2037.06,112.64 2025.26,100.2" stroke="#3fa648" stroke-width="2.4"/><polygon points="2063.41,78.16 2075.21,90.6 2063.41,103.04 2051.61,90.6" stroke="#3fa648" stroke-width="2.4"/><polygon points="2089.75,70.36 2101.55,82.8 2089.75,95.24 2077.95,82.8" stroke="#3fa648" stroke-width="2.4"/><polygon points="2116.1,59.66 2127.9,72.1 2116.1,84.54 2104.3,72.1" stroke="#3fa648" stroke-width="2.4"/><path d="M1359.24 589.51L1371.2 566.7M1386.63 539.96L1396.5 524.34M1414.22 499.22L1421.61 489.78M1441.14 466.14L1447.38 458.96M1467.93 436.28L1473.28 430.62M1495.03 409.21L1498.88 405.69M1521.34 385.06L1525.26 381.44M1548.38 361.65L1550.91 359.65M1574.89 340.99L1577.09 339.31M1601.76 321.69L1602.92 320.91M1627.71 303.47L1629.66 302.03M1654.54 284.72L1655.53 284.08M1681.11 267.91L1681.65 267.59M1707.56 252L1707.89 251.8M1760.37 221.93L1760.47 221.87" stroke="#2f6fe4" stroke-width="5.1" stroke-linecap="round"/><polygon points="1328.33,656.13 1337.64,661.75 1337.64,672.98 1328.33,678.6 1319.02,672.98 1319.02,661.75" stroke="#2f6bd6" stroke-width="2.4"/><polygon points="1330.97,648.68 1340.28,654.3 1340.28,665.53 1330.97,671.15 1321.66,665.53 1321.66,654.3" stroke="#2f6bd6" stroke-width="2.4"/><polygon points="1333.6,639.67 1342.91,645.28 1342.91,656.52 1333.6,662.13 1324.29,656.52 1324.29,645.28" stroke="#2f6bd6" stroke-width="2.4"/><polygon points="1336.24,631.93 1345.55,637.55 1345.55,648.78 1336.24,654.4 1326.93,648.78 1326.93,637.55" stroke="#2f6bd6" stroke-width="2.4"/><polygon points="1338.87,624.22 1348.18,629.84 1348.18,641.07 1338.87,646.69 1329.56,641.07 1329.56,629.84" stroke="#2f6bd6" stroke-width="2.4"/><polygon points="1341.51,617.13 1350.82,622.74 1350.82,633.98 1341.51,639.6 1332.2,633.98 1332.2,622.74" stroke="#2f6bd6" stroke-width="2.4"/><polygon points="1344.14,610.42 1353.45,616.04 1353.45,627.27 1344.14,632.89 1334.83,627.27 1334.83,616.04" stroke="#2f6bd6" stroke-width="2.4"/><polygon points="1346.78,604.24 1356.09,609.86 1356.09,621.09 1346.78,626.71 1337.47,621.09 1337.47,609.86" stroke="#2f6bd6" stroke-width="2.4"/><polygon points="1349.41,598.22 1358.72,603.84 1358.72,615.07 1349.41,620.69 1340.1,615.07 1340.1,603.84" stroke="#2f6bd6" stroke-width="2.4"/><polygon points="1352.05,591.97 1361.36,597.59 1361.36,608.82 1352.05,614.44 1342.74,608.82 1342.74,597.59" stroke="#2f6bd6" stroke-width="2.4"/><polygon points="1378.39,541.77 1387.7,547.38 1387.7,558.62 1378.39,564.23 1369.08,558.62 1369.08,547.38" stroke="#2f6bd6" stroke-width="2.4"/><polygon points="1404.74,500.07 1414.05,505.68 1414.05,516.92 1404.74,522.53 1395.43,516.92 1395.43,505.68" stroke="#2f6bd6" stroke-width="2.4"/><polygon points="1431.09,466.47 1440.4,472.08 1440.4,483.32 1431.09,488.93 1421.78,483.32 1421.78,472.08" stroke="#2f6bd6" stroke-width="2.4"/><polygon points="1457.43,436.17 1466.74,441.78 1466.74,453.02 1457.43,458.63 1448.12,453.02 1448.12,441.78" stroke="#2f6bd6" stroke-width="2.4"/><polygon points="1483.78,408.27 1493.09,413.88 1493.09,425.12 1483.78,430.73 1474.47,425.12 1474.47,413.88" stroke="#2f6bd6" stroke-width="2.4"/><polygon points="1510.13,384.17 1519.44,389.78 1519.44,401.02 1510.13,406.63 1500.82,401.02 1500.82,389.78" stroke="#2f6bd6" stroke-width="2.4"/><polygon points="1536.47,359.87 1545.78,365.48 1545.78,376.72 1536.47,382.33 1527.16,376.72 1527.16,365.48" stroke="#2f6bd6" stroke-width="2.4"/><polygon points="1562.82,338.97 1572.13,344.58 1572.13,355.82 1562.82,361.43 1553.51,355.82 1553.51,344.58" stroke="#2f6bd6" stroke-width="2.4"/><polygon points="1589.17,318.87 1598.48,324.48 1598.48,335.72 1589.17,341.33 1579.86,335.72 1579.86,324.48" stroke="#2f6bd6" stroke-width="2.4"/><polygon points="1615.51,301.27 1624.82,306.88 1624.82,318.12 1615.51,323.73 1606.2,318.12 1606.2,306.88" stroke="#2f6bd6" stroke-width="2.4"/><polygon points="1641.86,281.77 1651.17,287.38 1651.17,298.62 1641.86,304.23 1632.55,298.62 1632.55,287.38" stroke="#2f6bd6" stroke-width="2.4"/><polygon points="1668.21,264.57 1677.52,270.18 1677.52,281.42 1668.21,287.03 1658.9,281.42 1658.9,270.18" stroke="#2f6bd6" stroke-width="2.4"/><polygon points="1694.55,248.47 1703.86,254.08 1703.86,265.32 1694.55,270.93 1685.24,265.32 1685.24,254.08" stroke="#2f6bd6" stroke-width="2.4"/><polygon points="1720.9,232.87 1730.21,238.48 1730.21,249.72 1720.9,255.33 1711.59,249.72 1711.59,238.48" stroke="#2f6bd6" stroke-width="2.4"/><polygon points="1747.25,218.17 1756.56,223.78 1756.56,235.02 1747.25,240.63 1737.94,235.02 1737.94,223.78" stroke="#2f6bd6" stroke-width="2.4"/><polygon points="1773.59,203.17 1782.9,208.78 1782.9,220.02 1773.59,225.63 1764.28,220.02 1764.28,208.78" stroke="#2f6bd6" stroke-width="2.4"/><polygon points="1799.94,191.47 1809.25,197.08 1809.25,208.32 1799.94,213.93 1790.63,208.32 1790.63,197.08" stroke="#2f6bd6" stroke-width="2.4"/><polygon points="1826.29,180.47 1835.6,186.08 1835.6,197.32 1826.29,202.93 1816.98,197.32 1816.98,186.08" stroke="#2f6bd6" stroke-width="2.4"/><polygon points="1852.63,165.77 1861.94,171.38 1861.94,182.62 1852.63,188.23 1843.32,182.62 1843.32,171.38" stroke="#2f6bd6" stroke-width="2.4"/><polygon points="1878.98,154.77 1888.29,160.38 1888.29,171.62 1878.98,177.23 1869.67,171.62 1869.67,160.38" stroke="#2f6bd6" stroke-width="2.4"/><polygon points="1905.33,142.77 1914.64,148.38 1914.64,159.62 1905.33,165.23 1896.02,159.62 1896.02,148.38" stroke="#2f6bd6" stroke-width="2.4"/><polygon points="1931.67,130.67 1940.98,136.28 1940.98,147.52 1931.67,153.13 1922.36,147.52 1922.36,136.28" stroke="#2f6bd6" stroke-width="2.4"/><polygon points="1958.02,120.77 1967.33,126.38 1967.33,137.62 1958.02,143.23 1948.71,137.62 1948.71,126.38" stroke="#2f6bd6" stroke-width="2.4"/><polygon points="1984.37,110.67 1993.68,116.28 1993.68,127.52 1984.37,133.13 1975.06,127.52 1975.06,116.28" stroke="#2f6bd6" stroke-width="2.4"/><polygon points="2010.71,99.27 2020.02,104.88 2020.02,116.12 2010.71,121.73 2001.4,116.12 2001.4,104.88" stroke="#2f6bd6" stroke-width="2.4"/><polygon points="2037.06,88.97 2046.37,94.58 2046.37,105.82 2037.06,111.43 2027.75,105.82 2027.75,94.58" stroke="#2f6bd6" stroke-width="2.4"/><polygon points="2063.41,79.37 2072.72,84.98 2072.72,96.22 2063.41,101.83 2054.1,96.22 2054.1,84.98" stroke="#2f6bd6" stroke-width="2.4"/><polygon points="2089.75,71.57 2099.06,77.18 2099.06,88.42 2089.75,94.03 2080.44,88.42 2080.44,77.18" stroke="#2f6bd6" stroke-width="2.4"/><polygon points="2116.1,60.87 2125.41,66.48 2125.41,77.72 2116.1,83.33 2106.79,77.72 2106.79,66.48" stroke="#2f6bd6" stroke-width="2.4"/></g><g clip-path="url(#ib)" fill="none"><path d="M1997.49 367.9V665.6" stroke="#000" stroke-width="4.8" stroke-dasharray="23.9 21.6"/><path d="M1714.46 630.53L1764.63 618.57M1781.52 613.1L1804.54 603.6M1820.73 596.22L1832.82 590.18M1848.36 581.53L1854.93 577.47M1870 567.99L1872.77 566.21M1887.49 556.2L1888.05 555.8M1936.51 517.83L1990.98 466.97M2003.7 454.52L2030.77 426.68M2042.93 413.69L2059.03 395.81M2070.95 382.6L2080.74 371.8" stroke="#ea1b1b" stroke-width="5.2" stroke-linecap="round"/><circle cx="1705.8" cy="632.6" r="5.5" stroke="#d81e20" stroke-width="1.25"/><circle cx="1773.29" cy="616.5" r="5.5" stroke="#d81e20" stroke-width="1.25"/><circle cx="1812.77" cy="600.2" r="5.5" stroke="#d81e20" stroke-width="1.25"/><circle cx="1840.78" cy="586.2" r="5.5" stroke="#d81e20" stroke-width="1.25"/><circle cx="1862.51" cy="572.8" r="5.5" stroke="#d81e20" stroke-width="1.25"/><circle cx="1880.26" cy="561.4" r="5.5" stroke="#d81e20" stroke-width="1.25"/><circle cx="1895.27" cy="550.6" r="5.5" stroke="#d81e20" stroke-width="1.25"/><circle cx="1908.27" cy="541.3" r="5.5" stroke="#d81e20" stroke-width="1.25"/><circle cx="1919.74" cy="532.6" r="5.5" stroke="#d81e20" stroke-width="1.25"/><circle cx="1930" cy="523.9" r="5.5" stroke="#d81e20" stroke-width="1.25"/><circle cx="1997.49" cy="460.9" r="5.5" stroke="#d81e20" stroke-width="1.25"/><circle cx="2036.97" cy="420.3" r="5.5" stroke="#d81e20" stroke-width="1.25"/><circle cx="2064.98" cy="389.2" r="5.5" stroke="#d81e20" stroke-width="1.25"/><circle cx="2086.71" cy="365.2" r="5.5" stroke="#d81e20" stroke-width="1.25"/><path d="M1714.44 634.87L1764.65 622.53M1781.44 616.81L1804.63 606.59M1820.69 598.93L1832.87 592.67M1848.29 583.83L1855 579.57M1869.92 569.87L1872.85 567.93M1887.42 557.71L1888.12 557.19M1936.48 518.4L1991.01 467M2003.7 454.52L2030.77 426.68M2042.93 413.69L2059.03 395.81M2070.95 382.6L2080.74 371.8" stroke="#42b549" stroke-width="5.2" stroke-linecap="round"/><polygon points="1705.8,630.1 1712.2,637 1705.8,643.9 1699.4,637" stroke="#3fa648" stroke-width="1.25"/><polygon points="1773.29,613.5 1779.69,620.4 1773.29,627.3 1766.89,620.4" stroke="#3fa648" stroke-width="1.25"/><polygon points="1812.77,596.1 1819.17,603 1812.77,609.9 1806.37,603" stroke="#3fa648" stroke-width="1.25"/><polygon points="1840.78,581.7 1847.18,588.6 1840.78,595.5 1834.38,588.6" stroke="#3fa648" stroke-width="1.25"/><polygon points="1862.51,567.9 1868.91,574.8 1862.51,581.7 1856.11,574.8" stroke="#3fa648" stroke-width="1.25"/><polygon points="1880.26,556.1 1886.66,563 1880.26,569.9 1873.86,563" stroke="#3fa648" stroke-width="1.25"/><polygon points="1895.27,545 1901.67,551.9 1895.27,558.8 1888.87,551.9" stroke="#3fa648" stroke-width="1.25"/><polygon points="1908.27,535.5 1914.67,542.4 1908.27,549.3 1901.87,542.4" stroke="#3fa648" stroke-width="1.25"/><polygon points="1919.74,526.5 1926.14,533.4 1919.74,540.3 1913.34,533.4" stroke="#3fa648" stroke-width="1.25"/><polygon points="1930,517.6 1936.4,524.5 1930,531.4 1923.6,524.5" stroke="#3fa648" stroke-width="1.25"/><polygon points="1997.49,454 2003.89,460.9 1997.49,467.8 1991.09,460.9" stroke="#3fa648" stroke-width="1.25"/><polygon points="2036.97,413.4 2043.37,420.3 2036.97,427.2 2030.57,420.3" stroke="#3fa648" stroke-width="1.25"/><polygon points="2064.98,382.3 2071.38,389.2 2064.98,396.1 2058.58,389.2" stroke="#3fa648" stroke-width="1.25"/><polygon points="2086.71,358.3 2093.11,365.2 2086.71,372.1 2080.31,365.2" stroke="#3fa648" stroke-width="1.25"/><path d="M1714.44 639.17L1764.65 626.83M1781.33 620.89L1804.73 609.81M1820.62 601.8L1832.94 595.2M1848.25 586.16L1855.04 581.74M1869.82 571.83L1872.95 569.67M1887.42 559.31L1888.12 558.79M1936.44 519.16L1991.05 467.04M2003.7 454.52L2030.77 426.68M2042.93 413.69L2059.03 395.81M2070.95 382.6L2080.74 371.8" stroke="#2f6fe4" stroke-width="5.2" stroke-linecap="round"/><polygon points="1705.8,635 1711.26,638.15 1711.26,644.45 1705.8,647.6 1700.34,644.45 1700.34,638.15" stroke="#2f6bd6" stroke-width="1.25"/><polygon points="1773.29,618.4 1778.75,621.55 1778.75,627.85 1773.29,631 1767.83,627.85 1767.83,621.55" stroke="#2f6bd6" stroke-width="1.25"/><polygon points="1812.77,599.7 1818.23,602.85 1818.23,609.15 1812.77,612.3 1807.31,609.15 1807.31,602.85" stroke="#2f6bd6" stroke-width="1.25"/><polygon points="1840.78,584.7 1846.24,587.85 1846.24,594.15 1840.78,597.3 1835.33,594.15 1835.33,587.85" stroke="#2f6bd6" stroke-width="1.25"/><polygon points="1862.51,570.6 1867.97,573.75 1867.97,580.05 1862.51,583.2 1857.05,580.05 1857.05,573.75" stroke="#2f6bd6" stroke-width="1.25"/><polygon points="1880.26,558.3 1885.72,561.45 1885.72,567.75 1880.26,570.9 1874.81,567.75 1874.81,561.45" stroke="#2f6bd6" stroke-width="1.25"/><polygon points="1895.27,547.2 1900.73,550.35 1900.73,556.65 1895.27,559.8 1889.82,556.65 1889.82,550.35" stroke="#2f6bd6" stroke-width="1.25"/><polygon points="1908.27,537.4 1913.73,540.55 1913.73,546.85 1908.27,550 1902.82,546.85 1902.82,540.55" stroke="#2f6bd6" stroke-width="1.25"/><polygon points="1919.74,528.2 1925.2,531.35 1925.2,537.65 1919.74,540.8 1914.29,537.65 1914.29,531.35" stroke="#2f6bd6" stroke-width="1.25"/><polygon points="1930,519 1935.46,522.15 1935.46,528.45 1930,531.6 1924.54,528.45 1924.54,522.15" stroke="#2f6bd6" stroke-width="1.25"/><polygon points="1997.49,454.6 2002.95,457.75 2002.95,464.05 1997.49,467.2 1992.03,464.05 1992.03,457.75" stroke="#2f6bd6" stroke-width="1.25"/><polygon points="2036.97,414 2042.43,417.15 2042.43,423.45 2036.97,426.6 2031.51,423.45 2031.51,417.15" stroke="#2f6bd6" stroke-width="1.25"/><polygon points="2064.98,382.9 2070.44,386.05 2070.44,392.35 2064.98,395.5 2059.53,392.35 2059.53,386.05" stroke="#2f6bd6" stroke-width="1.25"/><polygon points="2086.71,358.9 2092.17,362.05 2092.17,368.35 2086.71,371.5 2081.25,368.35 2081.25,362.05" stroke="#2f6bd6" stroke-width="1.25"/></g>
<!-- panel c -->
<rect x="227.1" y="913.3" width="790.7" height="672.3" stroke="#000" stroke-width="5.7" fill="none"/><path d="M490.67 1585.6v-12.3M490.67 913.3v12.3M754.23 1585.6v-12.3M754.23 913.3v12.3M358.88 1585.6v-6.2M358.88 913.3v6.2M622.45 1585.6v-6.2M622.45 913.3v6.2M886.02 1585.6v-6.2M886.02 913.3v6.2M227.1 1361.5h12.3M1017.8 1361.5h-12.3M227.1 1137.4h12.3M1017.8 1137.4h-12.3M227.1 1473.55h6.2M1017.8 1473.55h-6.2M227.1 1249.45h6.2M1017.8 1249.45h-6.2M227.1 1025.35h6.2M1017.8 1025.35h-6.2" stroke="#000" stroke-width="5.3" fill="none"/><text x="238.84" y="1635.3" font-size="46.2" text-anchor="middle" letter-spacing="-0.74" transform="scale(0.95 1)">0.000</text><text x="516.28" y="1635.3" font-size="46.2" text-anchor="middle" letter-spacing="-0.74" transform="scale(0.95 1)">0.001</text><text x="793.72" y="1635.3" font-size="46.2" text-anchor="middle" letter-spacing="-0.74" transform="scale(0.95 1)">0.002</text><text x="1071.16" y="1635.3" font-size="46.2" text-anchor="middle" letter-spacing="-0.74" transform="scale(0.95 1)">0.003</text><text x="223.58" y="1599.1" font-size="46.2" text-anchor="end" letter-spacing="-0.74" transform="scale(0.95 1)">0.00</text><text x="223.58" y="1375" font-size="46.2" text-anchor="end" letter-spacing="-0.74" transform="scale(0.95 1)">0.05</text><text x="223.58" y="1150.9" font-size="46.2" text-anchor="end" letter-spacing="-0.74" transform="scale(0.95 1)">0.10</text><text x="223.58" y="926.8" font-size="46.2" text-anchor="end" letter-spacing="-0.74" transform="scale(0.95 1)">0.15</text><rect x="607.9" y="1216.5" width="381.1" height="302.5" stroke="#000" stroke-width="4.6" fill="none"/><path d="M845.8 1519v-5.9M845.8 1216.5v5.9M607.9 1232.7h5.9M989 1232.7h-5.9M607.9 1272h5.9M989 1272h-5.9M607.9 1327.8h5.9M989 1327.8h-5.9M607.9 1423.3h5.9M989 1423.3h-5.9" stroke="#000" stroke-width="3.8" fill="none"/><path d="M679.52 1519v-3.2M679.52 1216.5v3.2M721.41 1519v-3.2M721.41 1216.5v3.2M751.13 1519v-3.2M751.13 1216.5v3.2M774.18 1519v-3.2M774.18 1216.5v3.2M793.02 1519v-3.2M793.02 1216.5v3.2M808.95 1519v-3.2M808.95 1216.5v3.2M822.75 1519v-3.2M822.75 1216.5v3.2M834.91 1519v-3.2M834.91 1216.5v3.2M917.42 1519v-3.2M917.42 1216.5v3.2M959.31 1519v-3.2M959.31 1216.5v3.2M607.9 1493.52h3.2M989 1493.52h-3.2M607.9 1472.33h3.2M989 1472.33h-3.2M607.9 1453.97h3.2M989 1453.97h-3.2M607.9 1437.78h3.2M989 1437.78h-3.2M607.9 1423.3h3.2M989 1423.3h-3.2M607.9 1410.2h3.2M989 1410.2h-3.2M607.9 1398.24h3.2M989 1398.24h-3.2M607.9 1387.24h3.2M989 1387.24h-3.2M607.9 1377.05h3.2M989 1377.05h-3.2M607.9 1367.57h3.2M989 1367.57h-3.2M607.9 1358.7h3.2M989 1358.7h-3.2M607.9 1350.36h3.2M989 1350.36h-3.2M607.9 1342.51h3.2M989 1342.51h-3.2M607.9 1335.07h3.2M989 1335.07h-3.2M607.9 1328.02h3.2M989 1328.02h-3.2M607.9 1321.32h3.2M989 1321.32h-3.2M607.9 1314.92h3.2M989 1314.92h-3.2M607.9 1308.81h3.2M989 1308.81h-3.2M607.9 1302.96h3.2M989 1302.96h-3.2M607.9 1297.35h3.2M989 1297.35h-3.2M607.9 1291.96h3.2M989 1291.96h-3.2M607.9 1286.77h3.2M989 1286.77h-3.2M607.9 1281.77h3.2M989 1281.77h-3.2M607.9 1276.95h3.2M989 1276.95h-3.2M607.9 1272.29h3.2M989 1272.29h-3.2M607.9 1267.78h3.2M989 1267.78h-3.2M607.9 1263.42h3.2M989 1263.42h-3.2M607.9 1259.19h3.2M989 1259.19h-3.2M607.9 1255.09h3.2M989 1255.09h-3.2M607.9 1251.1h3.2M989 1251.1h-3.2M607.9 1247.23h3.2M989 1247.23h-3.2M607.9 1243.46h3.2M989 1243.46h-3.2M607.9 1239.8h3.2M989 1239.8h-3.2M607.9 1236.23h3.2M989 1236.23h-3.2M607.9 1232.75h3.2M989 1232.75h-3.2M607.9 1229.35h3.2M989 1229.35h-3.2M607.9 1226.04h3.2M989 1226.04h-3.2M607.9 1222.81h3.2M989 1222.81h-3.2M607.9 1219.65h3.2M989 1219.65h-3.2" stroke="#000" stroke-width="1.6" fill="none"/><text x="607.8" y="1556.8" font-size="32.4" text-anchor="middle">10<tspan font-size="21.6" dy="-12.5">-5</tspan></text><text x="845.7" y="1556.8" font-size="32.4" text-anchor="middle">10<tspan font-size="21.6" dy="-12.5">-4</tspan></text><text x="601.1" y="1241.9" font-size="32.4" text-anchor="end">0.04</text><text x="601.1" y="1281.2" font-size="32.4" text-anchor="end">0.03</text><text x="601.1" y="1337" font-size="32.4" text-anchor="end">0.02</text><text x="601.1" y="1432.5" font-size="32.4" text-anchor="end">0.01</text><g clip-path="url(#cc)" fill="none"><path d="M261.59 1487.16L271.68 1470.91M288.69 1445.23L297.29 1433.07M315.7 1408.46L323 1399.24M342.53 1375.59L348.88 1368.21M369.41 1345.5L374.72 1339.9M396.11 1318.08L400.73 1313.52M422.65 1292.28L426.9 1288.22M449.55 1267.84L452.71 1265.16M476.14 1245.74L478.84 1243.56M502.78 1224.85L504.91 1223.25M529.2 1205.04L531.2 1203.56M555.58 1185.47L557.54 1184.03M582.46 1166.79L583.37 1166.21M608.77 1149.72L609.77 1149.08M635.36 1132.92L635.9 1132.58M661.61 1116.64L662.36 1116.16M740.93 1074.88L741.18 1074.72" stroke="#ea1b1b" stroke-width="5.1" stroke-linecap="round"/><ellipse cx="229.74" cy="1554.31" rx="9.45" ry="9.88" stroke="#d81e20" stroke-width="2.4"/><ellipse cx="232.37" cy="1546.82" rx="9.45" ry="9.88" stroke="#d81e20" stroke-width="2.4"/><ellipse cx="235.01" cy="1539.82" rx="9.45" ry="9.88" stroke="#d81e20" stroke-width="2.4"/><ellipse cx="237.64" cy="1533.31" rx="9.45" ry="9.88" stroke="#d81e20" stroke-width="2.4"/><ellipse cx="240.28" cy="1527.36" rx="9.45" ry="9.88" stroke="#d81e20" stroke-width="2.4"/><ellipse cx="242.91" cy="1521.63" rx="9.45" ry="9.88" stroke="#d81e20" stroke-width="2.4"/><ellipse cx="245.55" cy="1516.3" rx="9.45" ry="9.88" stroke="#d81e20" stroke-width="2.4"/><ellipse cx="248.19" cy="1511.07" rx="9.45" ry="9.88" stroke="#d81e20" stroke-width="2.4"/><ellipse cx="250.82" cy="1506.14" rx="9.45" ry="9.88" stroke="#d81e20" stroke-width="2.4"/><ellipse cx="253.46" cy="1500.27" rx="9.45" ry="9.88" stroke="#d81e20" stroke-width="2.4"/><ellipse cx="279.81" cy="1457.8" rx="9.45" ry="9.88" stroke="#d81e20" stroke-width="2.4"/><ellipse cx="306.17" cy="1420.5" rx="9.45" ry="9.88" stroke="#d81e20" stroke-width="2.4"/><ellipse cx="332.53" cy="1387.2" rx="9.45" ry="9.88" stroke="#d81e20" stroke-width="2.4"/><ellipse cx="358.88" cy="1356.6" rx="9.45" ry="9.88" stroke="#d81e20" stroke-width="2.4"/><ellipse cx="385.24" cy="1328.8" rx="9.45" ry="9.88" stroke="#d81e20" stroke-width="2.4"/><ellipse cx="411.6" cy="1302.8" rx="9.45" ry="9.88" stroke="#d81e20" stroke-width="2.4"/><ellipse cx="437.95" cy="1277.7" rx="9.45" ry="9.88" stroke="#d81e20" stroke-width="2.4"/><ellipse cx="464.31" cy="1255.3" rx="9.45" ry="9.88" stroke="#d81e20" stroke-width="2.4"/><ellipse cx="490.67" cy="1234" rx="9.45" ry="9.88" stroke="#d81e20" stroke-width="2.4"/><ellipse cx="517.02" cy="1214.1" rx="9.45" ry="9.88" stroke="#d81e20" stroke-width="2.4"/><ellipse cx="543.38" cy="1194.5" rx="9.45" ry="9.88" stroke="#d81e20" stroke-width="2.4"/><ellipse cx="569.74" cy="1175" rx="9.45" ry="9.88" stroke="#d81e20" stroke-width="2.4"/><ellipse cx="596.09" cy="1158" rx="9.45" ry="9.88" stroke="#d81e20" stroke-width="2.4"/><ellipse cx="622.45" cy="1140.8" rx="9.45" ry="9.88" stroke="#d81e20" stroke-width="2.4"/><ellipse cx="648.81" cy="1124.7" rx="9.45" ry="9.88" stroke="#d81e20" stroke-width="2.4"/><ellipse cx="675.16" cy="1108.1" rx="9.45" ry="9.88" stroke="#d81e20" stroke-width="2.4"/><ellipse cx="701.52" cy="1094.5" rx="9.45" ry="9.88" stroke="#d81e20" stroke-width="2.4"/><ellipse cx="727.88" cy="1082.5" rx="9.45" ry="9.88" stroke="#d81e20" stroke-width="2.4"/><ellipse cx="754.23" cy="1067.1" rx="9.45" ry="9.88" stroke="#d81e20" stroke-width="2.4"/><ellipse cx="780.59" cy="1055" rx="9.45" ry="9.88" stroke="#d81e20" stroke-width="2.4"/><ellipse cx="806.95" cy="1043.1" rx="9.45" ry="9.88" stroke="#d81e20" stroke-width="2.4"/><ellipse cx="833.3" cy="1029" rx="9.45" ry="9.88" stroke="#d81e20" stroke-width="2.4"/><ellipse cx="859.66" cy="1018.5" rx="9.45" ry="9.88" stroke="#d81e20" stroke-width="2.4"/><ellipse cx="886.02" cy="1008.3" rx="9.45" ry="9.88" stroke="#d81e20" stroke-width="2.4"/><ellipse cx="912.37" cy="996.1" rx="9.45" ry="9.88" stroke="#d81e20" stroke-width="2.4"/><ellipse cx="938.73" cy="986.2" rx="9.45" ry="9.88" stroke="#d81e20" stroke-width="2.4"/><ellipse cx="965.09" cy="975.8" rx="9.45" ry="9.88" stroke="#d81e20" stroke-width="2.4"/><ellipse cx="991.44" cy="967.5" rx="9.45" ry="9.88" stroke="#d81e20" stroke-width="2.4"/><ellipse cx="1017.8" cy="956.9" rx="9.45" ry="9.88" stroke="#d81e20" stroke-width="2.4"/><path d="M261.4 1488.51L271.87 1471.04M288.69 1445.23L297.29 1433.07M315.7 1408.46L323 1399.24M342.53 1375.59L348.88 1368.21M369.41 1345.5L374.72 1339.9M396.11 1318.08L400.73 1313.52M422.65 1292.28L426.9 1288.22M449.55 1267.84L452.71 1265.16M476.14 1245.74L478.84 1243.56M502.78 1224.85L504.91 1223.25M529.2 1205.04L531.2 1203.56M555.58 1185.47L557.54 1184.03M582.46 1166.79L583.37 1166.21M608.77 1149.72L609.77 1149.08M635.36 1132.92L635.9 1132.58M661.61 1116.64L662.36 1116.16M740.93 1074.88L741.18 1074.72" stroke="#42b549" stroke-width="5.1" stroke-linecap="round"/><polygon points="229.74,1545.31 241.54,1557.75 229.74,1570.18 217.94,1557.75" stroke="#3fa648" stroke-width="2.4"/><polygon points="232.37,1537.29 244.17,1549.73 232.37,1562.16 220.57,1549.73" stroke="#3fa648" stroke-width="2.4"/><polygon points="235.01,1529.82 246.81,1542.26 235.01,1554.69 223.21,1542.26" stroke="#3fa648" stroke-width="2.4"/><polygon points="237.64,1523.07 249.44,1535.5 237.64,1547.94 225.84,1535.5" stroke="#3fa648" stroke-width="2.4"/><polygon points="240.28,1516.92 252.08,1529.36 240.28,1541.79 228.48,1529.36" stroke="#3fa648" stroke-width="2.4"/><polygon points="242.91,1510.98 254.71,1523.42 242.91,1535.86 231.11,1523.42" stroke="#3fa648" stroke-width="2.4"/><polygon points="245.55,1505.46 257.35,1517.9 245.55,1530.33 233.75,1517.9" stroke="#3fa648" stroke-width="2.4"/><polygon points="248.19,1500.3 259.99,1512.73 248.19,1525.17 236.39,1512.73" stroke="#3fa648" stroke-width="2.4"/><polygon points="250.82,1495.14 262.62,1507.58 250.82,1520.01 239.02,1507.58" stroke="#3fa648" stroke-width="2.4"/><polygon points="253.46,1489.31 265.26,1501.75 253.46,1514.18 241.66,1501.75" stroke="#3fa648" stroke-width="2.4"/><polygon points="279.81,1445.36 291.61,1457.8 279.81,1470.24 268.01,1457.8" stroke="#3fa648" stroke-width="2.4"/><polygon points="306.17,1408.06 317.97,1420.5 306.17,1432.94 294.37,1420.5" stroke="#3fa648" stroke-width="2.4"/><polygon points="332.53,1374.76 344.33,1387.2 332.53,1399.64 320.73,1387.2" stroke="#3fa648" stroke-width="2.4"/><polygon points="358.88,1344.16 370.68,1356.6 358.88,1369.04 347.08,1356.6" stroke="#3fa648" stroke-width="2.4"/><polygon points="385.24,1316.36 397.04,1328.8 385.24,1341.24 373.44,1328.8" stroke="#3fa648" stroke-width="2.4"/><polygon points="411.6,1290.36 423.4,1302.8 411.6,1315.24 399.8,1302.8" stroke="#3fa648" stroke-width="2.4"/><polygon points="437.95,1265.26 449.75,1277.7 437.95,1290.14 426.15,1277.7" stroke="#3fa648" stroke-width="2.4"/><polygon points="464.31,1242.86 476.11,1255.3 464.31,1267.74 452.51,1255.3" stroke="#3fa648" stroke-width="2.4"/><polygon points="490.67,1221.56 502.47,1234 490.67,1246.44 478.87,1234" stroke="#3fa648" stroke-width="2.4"/><polygon points="517.02,1201.66 528.82,1214.1 517.02,1226.54 505.22,1214.1" stroke="#3fa648" stroke-width="2.4"/><polygon points="543.38,1182.06 555.18,1194.5 543.38,1206.94 531.58,1194.5" stroke="#3fa648" stroke-width="2.4"/><polygon points="569.74,1162.56 581.54,1175 569.74,1187.44 557.94,1175" stroke="#3fa648" stroke-width="2.4"/><polygon points="596.09,1145.56 607.89,1158 596.09,1170.44 584.29,1158" stroke="#3fa648" stroke-width="2.4"/><polygon points="622.45,1128.36 634.25,1140.8 622.45,1153.24 610.65,1140.8" stroke="#3fa648" stroke-width="2.4"/><polygon points="648.81,1112.26 660.61,1124.7 648.81,1137.14 637.01,1124.7" stroke="#3fa648" stroke-width="2.4"/><polygon points="675.16,1095.66 686.96,1108.1 675.16,1120.54 663.36,1108.1" stroke="#3fa648" stroke-width="2.4"/><polygon points="701.52,1082.06 713.32,1094.5 701.52,1106.94 689.72,1094.5" stroke="#3fa648" stroke-width="2.4"/><polygon points="727.88,1070.06 739.68,1082.5 727.88,1094.94 716.08,1082.5" stroke="#3fa648" stroke-width="2.4"/><polygon points="754.23,1054.66 766.03,1067.1 754.23,1079.54 742.43,1067.1" stroke="#3fa648" stroke-width="2.4"/><polygon points="780.59,1042.56 792.39,1055 780.59,1067.44 768.79,1055" stroke="#3fa648" stroke-width="2.4"/><polygon points="806.95,1030.66 818.75,1043.1 806.95,1055.54 795.15,1043.1" stroke="#3fa648" stroke-width="2.4"/><polygon points="833.3,1016.56 845.1,1029 833.3,1041.44 821.5,1029" stroke="#3fa648" stroke-width="2.4"/><polygon points="859.66,1006.06 871.46,1018.5 859.66,1030.94 847.86,1018.5" stroke="#3fa648" stroke-width="2.4"/><polygon points="886.02,995.86 897.82,1008.3 886.02,1020.74 874.22,1008.3" stroke="#3fa648" stroke-width="2.4"/><polygon points="912.37,983.66 924.17,996.1 912.37,1008.54 900.57,996.1" stroke="#3fa648" stroke-width="2.4"/><polygon points="938.73,973.76 950.53,986.2 938.73,998.64 926.93,986.2" stroke="#3fa648" stroke-width="2.4"/><polygon points="965.09,963.36 976.89,975.8 965.09,988.24 953.29,975.8" stroke="#3fa648" stroke-width="2.4"/><polygon points="991.44,955.06 1003.24,967.5 991.44,979.94 979.64,967.5" stroke="#3fa648" stroke-width="2.4"/><polygon points="1017.8,944.46 1029.6,956.9 1017.8,969.34 1006,956.9" stroke="#3fa648" stroke-width="2.4"/><path d="M261.23 1489.68L272.04 1471.14M288.69 1445.23L297.29 1433.07M315.7 1408.46L323 1399.24M342.53 1375.59L348.88 1368.21M369.41 1345.5L374.72 1339.9M396.11 1318.08L400.73 1313.52M422.65 1292.28L426.9 1288.22M449.55 1267.84L452.71 1265.16M476.14 1245.74L478.84 1243.56M502.78 1224.85L504.91 1223.25M529.2 1205.04L531.2 1203.56M555.58 1185.47L557.54 1184.03M582.46 1166.79L583.37 1166.21M608.77 1149.72L609.77 1149.08M635.36 1132.92L635.9 1132.58M661.61 1116.64L662.36 1116.16M740.93 1074.88L741.18 1074.72" stroke="#2f6fe4" stroke-width="5.1" stroke-linecap="round"/><polygon points="229.74,1548.38 239.05,1553.99 239.05,1565.23 229.74,1570.84 220.43,1565.23 220.43,1553.99" stroke="#2f6bd6" stroke-width="2.4"/><polygon points="232.37,1540.4 241.68,1546.01 241.68,1557.25 232.37,1562.86 223.06,1557.25 223.06,1546.01" stroke="#2f6bd6" stroke-width="2.4"/><polygon points="235.01,1532.75 244.32,1538.37 244.32,1549.6 235.01,1555.22 225.7,1549.6 225.7,1538.37" stroke="#2f6bd6" stroke-width="2.4"/><polygon points="237.64,1525.99 246.95,1531.61 246.95,1542.84 237.64,1548.46 228.33,1542.84 228.33,1531.61" stroke="#2f6bd6" stroke-width="2.4"/><polygon points="240.28,1519.74 249.59,1525.36 249.59,1536.59 240.28,1542.21 230.97,1536.59 230.97,1525.36" stroke="#2f6bd6" stroke-width="2.4"/><polygon points="242.91,1513.57 252.22,1519.19 252.22,1530.42 242.91,1536.04 233.6,1530.42 233.6,1519.19" stroke="#2f6bd6" stroke-width="2.4"/><polygon points="245.55,1508.08 254.86,1513.69 254.86,1524.93 245.55,1530.54 236.24,1524.93 236.24,1513.69" stroke="#2f6bd6" stroke-width="2.4"/><polygon points="248.19,1502.71 257.5,1508.33 257.5,1519.56 248.19,1525.18 238.88,1519.56 238.88,1508.33" stroke="#2f6bd6" stroke-width="2.4"/><polygon points="250.82,1497.41 260.13,1503.03 260.13,1514.26 250.82,1519.88 241.51,1514.26 241.51,1503.03" stroke="#2f6bd6" stroke-width="2.4"/><polygon points="253.46,1491.79 262.77,1497.4 262.77,1508.64 253.46,1514.25 244.15,1508.64 244.15,1497.4" stroke="#2f6bd6" stroke-width="2.4"/><polygon points="279.81,1446.57 289.12,1452.18 289.12,1463.42 279.81,1469.03 270.5,1463.42 270.5,1452.18" stroke="#2f6bd6" stroke-width="2.4"/><polygon points="306.17,1409.27 315.48,1414.88 315.48,1426.12 306.17,1431.73 296.86,1426.12 296.86,1414.88" stroke="#2f6bd6" stroke-width="2.4"/><polygon points="332.53,1375.97 341.84,1381.58 341.84,1392.82 332.53,1398.43 323.22,1392.82 323.22,1381.58" stroke="#2f6bd6" stroke-width="2.4"/><polygon points="358.88,1345.37 368.19,1350.98 368.19,1362.22 358.88,1367.83 349.57,1362.22 349.57,1350.98" stroke="#2f6bd6" stroke-width="2.4"/><polygon points="385.24,1317.57 394.55,1323.18 394.55,1334.42 385.24,1340.03 375.93,1334.42 375.93,1323.18" stroke="#2f6bd6" stroke-width="2.4"/><polygon points="411.6,1291.57 420.91,1297.18 420.91,1308.42 411.6,1314.03 402.29,1308.42 402.29,1297.18" stroke="#2f6bd6" stroke-width="2.4"/><polygon points="437.95,1266.47 447.26,1272.08 447.26,1283.32 437.95,1288.93 428.64,1283.32 428.64,1272.08" stroke="#2f6bd6" stroke-width="2.4"/><polygon points="464.31,1244.07 473.62,1249.68 473.62,1260.92 464.31,1266.53 455,1260.92 455,1249.68" stroke="#2f6bd6" stroke-width="2.4"/><polygon points="490.67,1222.77 499.98,1228.38 499.98,1239.62 490.67,1245.23 481.36,1239.62 481.36,1228.38" stroke="#2f6bd6" stroke-width="2.4"/><polygon points="517.02,1202.87 526.33,1208.48 526.33,1219.72 517.02,1225.33 507.71,1219.72 507.71,1208.48" stroke="#2f6bd6" stroke-width="2.4"/><polygon points="543.38,1183.27 552.69,1188.88 552.69,1200.12 543.38,1205.73 534.07,1200.12 534.07,1188.88" stroke="#2f6bd6" stroke-width="2.4"/><polygon points="569.74,1163.77 579.05,1169.38 579.05,1180.62 569.74,1186.23 560.43,1180.62 560.43,1169.38" stroke="#2f6bd6" stroke-width="2.4"/><polygon points="596.09,1146.77 605.4,1152.38 605.4,1163.62 596.09,1169.23 586.78,1163.62 586.78,1152.38" stroke="#2f6bd6" stroke-width="2.4"/><polygon points="622.45,1129.57 631.76,1135.18 631.76,1146.42 622.45,1152.03 613.14,1146.42 613.14,1135.18" stroke="#2f6bd6" stroke-width="2.4"/><polygon points="648.81,1113.47 658.12,1119.08 658.12,1130.32 648.81,1135.93 639.5,1130.32 639.5,1119.08" stroke="#2f6bd6" stroke-width="2.4"/><polygon points="675.16,1096.87 684.47,1102.48 684.47,1113.72 675.16,1119.33 665.85,1113.72 665.85,1102.48" stroke="#2f6bd6" stroke-width="2.4"/><polygon points="701.52,1083.27 710.83,1088.88 710.83,1100.12 701.52,1105.73 692.21,1100.12 692.21,1088.88" stroke="#2f6bd6" stroke-width="2.4"/><polygon points="727.88,1071.27 737.19,1076.88 737.19,1088.12 727.88,1093.73 718.57,1088.12 718.57,1076.88" stroke="#2f6bd6" stroke-width="2.4"/><polygon points="754.23,1055.87 763.54,1061.48 763.54,1072.72 754.23,1078.33 744.92,1072.72 744.92,1061.48" stroke="#2f6bd6" stroke-width="2.4"/><polygon points="780.59,1043.77 789.9,1049.38 789.9,1060.62 780.59,1066.23 771.28,1060.62 771.28,1049.38" stroke="#2f6bd6" stroke-width="2.4"/><polygon points="806.95,1031.87 816.26,1037.48 816.26,1048.72 806.95,1054.33 797.64,1048.72 797.64,1037.48" stroke="#2f6bd6" stroke-width="2.4"/><polygon points="833.3,1017.77 842.61,1023.38 842.61,1034.62 833.3,1040.23 823.99,1034.62 823.99,1023.38" stroke="#2f6bd6" stroke-width="2.4"/><polygon points="859.66,1007.27 868.97,1012.88 868.97,1024.12 859.66,1029.73 850.35,1024.12 850.35,1012.88" stroke="#2f6bd6" stroke-width="2.4"/><polygon points="886.02,997.07 895.33,1002.68 895.33,1013.92 886.02,1019.53 876.71,1013.92 876.71,1002.68" stroke="#2f6bd6" stroke-width="2.4"/><polygon points="912.37,984.87 921.68,990.48 921.68,1001.72 912.37,1007.33 903.06,1001.72 903.06,990.48" stroke="#2f6bd6" stroke-width="2.4"/><polygon points="938.73,974.97 948.04,980.58 948.04,991.82 938.73,997.43 929.42,991.82 929.42,980.58" stroke="#2f6bd6" stroke-width="2.4"/><polygon points="965.09,964.57 974.4,970.18 974.4,981.42 965.09,987.03 955.78,981.42 955.78,970.18" stroke="#2f6bd6" stroke-width="2.4"/><polygon points="991.44,956.27 1000.75,961.88 1000.75,973.12 991.44,978.73 982.13,973.12 982.13,961.88" stroke="#2f6bd6" stroke-width="2.4"/><polygon points="1017.8,945.67 1027.11,951.28 1027.11,962.52 1017.8,968.13 1008.49,962.52 1008.49,951.28" stroke="#2f6bd6" stroke-width="2.4"/></g><g clip-path="url(#ic)" fill="none"><path d="M917.42 1218.5V1519" stroke="#000" stroke-width="4.8" stroke-dasharray="23.9 21.6"/><path d="M616.13 1469.31L671.29 1446.59M687.33 1438.95L713.59 1424.65M728.99 1415.73L743.55 1406.77M758.62 1397.29L766.7 1392.11M781.53 1382.27L785.68 1379.43M800.35 1369.34L801.63 1368.46M852.84 1329.35L910.38 1284.85M924.19 1273.63L952.53 1249.47M966.28 1238.17L982.06 1225.63" stroke="#ea1b1b" stroke-width="5.2" stroke-linecap="round"/><circle cx="607.9" cy="1472.7" r="5.5" stroke="#d81e20" stroke-width="1.25"/><circle cx="679.52" cy="1443.2" r="5.5" stroke="#d81e20" stroke-width="1.25"/><circle cx="721.41" cy="1420.4" r="5.5" stroke="#d81e20" stroke-width="1.25"/><circle cx="751.13" cy="1402.1" r="5.5" stroke="#d81e20" stroke-width="1.25"/><circle cx="774.18" cy="1387.3" r="5.5" stroke="#d81e20" stroke-width="1.25"/><circle cx="793.02" cy="1374.4" r="5.5" stroke="#d81e20" stroke-width="1.25"/><circle cx="808.95" cy="1363.4" r="5.5" stroke="#d81e20" stroke-width="1.25"/><circle cx="822.75" cy="1353.4" r="5.5" stroke="#d81e20" stroke-width="1.25"/><circle cx="834.91" cy="1344.6" r="5.5" stroke="#d81e20" stroke-width="1.25"/><circle cx="845.8" cy="1334.8" r="5.5" stroke="#d81e20" stroke-width="1.25"/><circle cx="917.42" cy="1279.4" r="5.5" stroke="#d81e20" stroke-width="1.25"/><circle cx="959.31" cy="1243.7" r="5.5" stroke="#d81e20" stroke-width="1.25"/><circle cx="989.03" cy="1220.1" r="5.5" stroke="#d81e20" stroke-width="1.25"/><path d="M615.9 1484.81L671.51 1457.79M687.08 1449.21L713.85 1432.59M728.8 1422.95L743.73 1412.95M758.46 1402.95L766.86 1397.15M781.36 1386.84L785.84 1383.56M800.19 1373.03L801.78 1371.87M852.73 1331.61L910.49 1284.99M924.19 1273.63L952.53 1249.47M966.28 1238.17L982.06 1225.63" stroke="#42b549" stroke-width="5.2" stroke-linecap="round"/><polygon points="607.9,1481.8 614.3,1488.7 607.9,1495.6 601.5,1488.7" stroke="#3fa648" stroke-width="1.25"/><polygon points="679.52,1447 685.92,1453.9 679.52,1460.8 673.12,1453.9" stroke="#3fa648" stroke-width="1.25"/><polygon points="721.41,1421 727.81,1427.9 721.41,1434.8 715.01,1427.9" stroke="#3fa648" stroke-width="1.25"/><polygon points="751.13,1401.1 757.53,1408 751.13,1414.9 744.73,1408" stroke="#3fa648" stroke-width="1.25"/><polygon points="774.18,1385.2 780.58,1392.1 774.18,1399 767.78,1392.1" stroke="#3fa648" stroke-width="1.25"/><polygon points="793.02,1371.4 799.42,1378.3 793.02,1385.2 786.62,1378.3" stroke="#3fa648" stroke-width="1.25"/><polygon points="808.95,1359.7 815.35,1366.6 808.95,1373.5 802.55,1366.6" stroke="#3fa648" stroke-width="1.25"/><polygon points="822.75,1349.6 829.15,1356.5 822.75,1363.4 816.35,1356.5" stroke="#3fa648" stroke-width="1.25"/><polygon points="834.91,1340.2 841.31,1347.1 834.91,1354 828.51,1347.1" stroke="#3fa648" stroke-width="1.25"/><polygon points="845.8,1330.3 852.2,1337.2 845.8,1344.1 839.4,1337.2" stroke="#3fa648" stroke-width="1.25"/><polygon points="917.42,1272.5 923.82,1279.4 917.42,1286.3 911.02,1279.4" stroke="#3fa648" stroke-width="1.25"/><polygon points="959.31,1236.8 965.71,1243.7 959.31,1250.6 952.91,1243.7" stroke="#3fa648" stroke-width="1.25"/><polygon points="989.03,1213.2 995.43,1220.1 989.03,1227 982.63,1220.1" stroke="#3fa648" stroke-width="1.25"/><path d="M615.82 1494.13L671.6 1465.47M686.92 1456.47L714 1438.43M728.71 1428.41L743.83 1417.89M758.34 1407.58L766.98 1401.32M781.2 1390.62L786.01 1386.88M800.15 1376.07L801.82 1374.83M852.63 1333.59L910.59 1285.11M924.19 1273.63L952.53 1249.47M966.28 1238.17L982.06 1225.63" stroke="#2f6fe4" stroke-width="5.2" stroke-linecap="round"/><polygon points="607.9,1491.9 613.36,1495.05 613.36,1501.35 607.9,1504.5 602.44,1501.35 602.44,1495.05" stroke="#2f6bd6" stroke-width="1.25"/><polygon points="679.52,1455.1 684.97,1458.25 684.97,1464.55 679.52,1467.7 674.06,1464.55 674.06,1458.25" stroke="#2f6bd6" stroke-width="1.25"/><polygon points="721.41,1427.2 726.86,1430.35 726.86,1436.65 721.41,1439.8 715.95,1436.65 715.95,1430.35" stroke="#2f6bd6" stroke-width="1.25"/><polygon points="751.13,1406.5 756.59,1409.65 756.59,1415.95 751.13,1419.1 745.67,1415.95 745.67,1409.65" stroke="#2f6bd6" stroke-width="1.25"/><polygon points="774.18,1389.8 779.64,1392.95 779.64,1399.25 774.18,1402.4 768.73,1399.25 768.73,1392.95" stroke="#2f6bd6" stroke-width="1.25"/><polygon points="793.02,1375.1 798.48,1378.25 798.48,1384.55 793.02,1387.7 787.57,1384.55 787.57,1378.25" stroke="#2f6bd6" stroke-width="1.25"/><polygon points="808.95,1363.2 814.4,1366.35 814.4,1372.65 808.95,1375.8 803.49,1372.65 803.49,1366.35" stroke="#2f6bd6" stroke-width="1.25"/><polygon points="822.75,1352.5 828.2,1355.65 828.2,1361.95 822.75,1365.1 817.29,1361.95 817.29,1355.65" stroke="#2f6bd6" stroke-width="1.25"/><polygon points="834.91,1342.7 840.37,1345.85 840.37,1352.15 834.91,1355.3 829.46,1352.15 829.46,1345.85" stroke="#2f6bd6" stroke-width="1.25"/><polygon points="845.8,1333 851.26,1336.15 851.26,1342.45 845.8,1345.6 840.34,1342.45 840.34,1336.15" stroke="#2f6bd6" stroke-width="1.25"/><polygon points="917.42,1273.1 922.87,1276.25 922.87,1282.55 917.42,1285.7 911.96,1282.55 911.96,1276.25" stroke="#2f6bd6" stroke-width="1.25"/><polygon points="959.31,1237.4 964.76,1240.55 964.76,1246.85 959.31,1250 953.85,1246.85 953.85,1240.55" stroke="#2f6bd6" stroke-width="1.25"/><polygon points="989.03,1213.8 994.49,1216.95 994.49,1223.25 989.03,1226.4 983.57,1223.25 983.57,1216.95" stroke="#2f6bd6" stroke-width="1.25"/></g>
<!-- panel d -->
<rect x="1325.7" y="913.2" width="790.5" height="671.8" stroke="#000" stroke-width="5.7" fill="none"/><path d="M1589.2 1585v-12.3M1589.2 913.2v12.3M1852.7 1585v-12.3M1852.7 913.2v12.3M1457.45 1585v-6.2M1457.45 913.2v6.2M1720.95 1585v-6.2M1720.95 913.2v6.2M1984.45 1585v-6.2M1984.45 913.2v6.2M1325.7 1428.53h12.3M2116.2 1428.53h-12.3M1325.7 1272.36h12.3M2116.2 1272.36h-12.3M1325.7 1116.19h12.3M2116.2 1116.19h-12.3M1325.7 960.02h12.3M2116.2 960.02h-12.3M1325.7 1506.62h6.2M2116.2 1506.62h-6.2M1325.7 1350.44h6.2M2116.2 1350.44h-6.2M1325.7 1194.27h6.2M2116.2 1194.27h-6.2M1325.7 1038.1h6.2M2116.2 1038.1h-6.2" stroke="#000" stroke-width="5.3" fill="none"/><text x="1395.26" y="1634.7" font-size="46.2" text-anchor="middle" letter-spacing="-0.74" transform="scale(0.95 1)">0.000</text><text x="1672.63" y="1634.7" font-size="46.2" text-anchor="middle" letter-spacing="-0.74" transform="scale(0.95 1)">0.001</text><text x="1950" y="1634.7" font-size="46.2" text-anchor="middle" letter-spacing="-0.74" transform="scale(0.95 1)">0.002</text><text x="2227.37" y="1634.7" font-size="46.2" text-anchor="middle" letter-spacing="-0.74" transform="scale(0.95 1)">0.003</text><text x="1380" y="1598.2" font-size="46.2" text-anchor="end" letter-spacing="-0.74" transform="scale(0.95 1)">0.49</text><text x="1380" y="1442.03" font-size="46.2" text-anchor="end" letter-spacing="-0.74" transform="scale(0.95 1)">0.50</text><text x="1380" y="1285.86" font-size="46.2" text-anchor="end" letter-spacing="-0.74" transform="scale(0.95 1)">0.51</text><text x="1380" y="1129.69" font-size="46.2" text-anchor="end" letter-spacing="-0.74" transform="scale(0.95 1)">0.52</text><text x="1380" y="973.52" font-size="46.2" text-anchor="end" letter-spacing="-0.74" transform="scale(0.95 1)">0.53</text><rect x="1703.9" y="1220.3" width="381.4" height="302.7" stroke="#000" stroke-width="4.6" fill="none"/><path d="M1941.8 1523v-5.9M1941.8 1220.3v5.9M1703.9 1285.9h5.9M2085.3 1285.9h-5.9M1703.9 1351.5h5.9M2085.3 1351.5h-5.9M1703.9 1417.3h5.9M2085.3 1417.3h-5.9M1703.9 1483h5.9M2085.3 1483h-5.9" stroke="#000" stroke-width="3.8" fill="none"/><path d="M1775.52 1523v-3.2M1775.52 1220.3v3.2M1817.41 1523v-3.2M1817.41 1220.3v3.2M1847.13 1523v-3.2M1847.13 1220.3v3.2M1870.18 1523v-3.2M1870.18 1220.3v3.2M1889.02 1523v-3.2M1889.02 1220.3v3.2M1904.95 1523v-3.2M1904.95 1220.3v3.2M1918.75 1523v-3.2M1918.75 1220.3v3.2M1930.91 1523v-3.2M1930.91 1220.3v3.2M2013.42 1523v-3.2M2013.42 1220.3v3.2M2055.31 1523v-3.2M2055.31 1220.3v3.2M1703.9 1515.92h3.2M2085.3 1515.92h-3.2M1703.9 1450.17h3.2M2085.3 1450.17h-3.2M1703.9 1384.42h3.2M2085.3 1384.42h-3.2M1703.9 1318.67h3.2M2085.3 1318.67h-3.2M1703.9 1252.92h3.2M2085.3 1252.92h-3.2" stroke="#000" stroke-width="1.6" fill="none"/><text x="1703.8" y="1560.8" font-size="32.4" text-anchor="middle">10<tspan font-size="21.6" dy="-12.5">-5</tspan></text><text x="1941.7" y="1560.8" font-size="32.4" text-anchor="middle">10<tspan font-size="21.6" dy="-12.5">-4</tspan></text><text x="1697.1" y="1229.5" font-size="32.4" text-anchor="end">0.515</text><text x="1697.1" y="1295.1" font-size="32.4" text-anchor="end">0.510</text><text x="1697.1" y="1360.7" font-size="32.4" text-anchor="end">0.505</text><text x="1697.1" y="1426.5" font-size="32.4" text-anchor="end">0.500</text><text x="1697.1" y="1492.2" font-size="32.4" text-anchor="end">0.495</text><g clip-path="url(#cd)" fill="none"><path d="M1358.9 1436.02L1371.55 1410.39M1384.64 1382.3L1398.51 1350.7M1408.74 1321.44L1427.11 1252.06M1437.66 1222.96L1450.89 1194.64M1463.01 1166.1L1478.24 1126.3M1491.32 1098.3L1502.63 1078M1519.85 1052.61L1526.8 1044.09M1546.45 1020.54L1552.9 1012.96M1573.03 989.86L1579.02 983.14M1786.56 971.69L1787.09 972.01M1839.05 996.74L1840 997.36M1890.52 1026.52L1893.93 1029.48M1944.33 1061.25L1945.52 1062.05M1970.61 1079.05L1971.94 1079.95M1994.74 1099.83L2000.51 1106.17M2048.89 1140.97L2051.76 1143.33M2100.82 1178.12L2105.23 1182.38" stroke="#ea1b1b" stroke-width="5.1" stroke-linecap="round"/><ellipse cx="1328.34" cy="1492.9" rx="9.45" ry="9.88" stroke="#d81e20" stroke-width="2.4"/><ellipse cx="1330.97" cy="1487.91" rx="9.45" ry="9.88" stroke="#d81e20" stroke-width="2.4"/><ellipse cx="1333.61" cy="1483.04" rx="9.45" ry="9.88" stroke="#d81e20" stroke-width="2.4"/><ellipse cx="1336.24" cy="1478.17" rx="9.45" ry="9.88" stroke="#d81e20" stroke-width="2.4"/><ellipse cx="1338.88" cy="1472.23" rx="9.45" ry="9.88" stroke="#d81e20" stroke-width="2.4"/><ellipse cx="1341.51" cy="1467.84" rx="9.45" ry="9.88" stroke="#d81e20" stroke-width="2.4"/><ellipse cx="1344.14" cy="1463.33" rx="9.45" ry="9.88" stroke="#d81e20" stroke-width="2.4"/><ellipse cx="1346.78" cy="1458.1" rx="9.45" ry="9.88" stroke="#d81e20" stroke-width="2.4"/><ellipse cx="1349.41" cy="1454.06" rx="9.45" ry="9.88" stroke="#d81e20" stroke-width="2.4"/><ellipse cx="1352.05" cy="1449.91" rx="9.45" ry="9.88" stroke="#d81e20" stroke-width="2.4"/><ellipse cx="1378.4" cy="1396.5" rx="9.45" ry="9.88" stroke="#d81e20" stroke-width="2.4"/><ellipse cx="1404.75" cy="1336.5" rx="9.45" ry="9.88" stroke="#d81e20" stroke-width="2.4"/><ellipse cx="1431.1" cy="1237" rx="9.45" ry="9.88" stroke="#d81e20" stroke-width="2.4"/><ellipse cx="1457.45" cy="1180.6" rx="9.45" ry="9.88" stroke="#d81e20" stroke-width="2.4"/><ellipse cx="1483.8" cy="1111.8" rx="9.45" ry="9.88" stroke="#d81e20" stroke-width="2.4"/><ellipse cx="1510.15" cy="1064.5" rx="9.45" ry="9.88" stroke="#d81e20" stroke-width="2.4"/><ellipse cx="1536.5" cy="1032.2" rx="9.45" ry="9.88" stroke="#d81e20" stroke-width="2.4"/><ellipse cx="1562.85" cy="1001.3" rx="9.45" ry="9.88" stroke="#d81e20" stroke-width="2.4"/><ellipse cx="1589.2" cy="971.7" rx="9.45" ry="9.88" stroke="#d81e20" stroke-width="2.4"/><ellipse cx="1615.55" cy="958.5" rx="9.45" ry="9.88" stroke="#d81e20" stroke-width="2.4"/><ellipse cx="1641.9" cy="951" rx="9.45" ry="9.88" stroke="#d81e20" stroke-width="2.4"/><ellipse cx="1668.25" cy="943" rx="9.45" ry="9.88" stroke="#d81e20" stroke-width="2.4"/><ellipse cx="1694.6" cy="945.4" rx="9.45" ry="9.88" stroke="#d81e20" stroke-width="2.4"/><ellipse cx="1720.95" cy="947.3" rx="9.45" ry="9.88" stroke="#d81e20" stroke-width="2.4"/><ellipse cx="1747.3" cy="957.5" rx="9.45" ry="9.88" stroke="#d81e20" stroke-width="2.4"/><ellipse cx="1773.65" cy="963.8" rx="9.45" ry="9.88" stroke="#d81e20" stroke-width="2.4"/><ellipse cx="1800" cy="979.9" rx="9.45" ry="9.88" stroke="#d81e20" stroke-width="2.4"/><ellipse cx="1826.35" cy="988.5" rx="9.45" ry="9.88" stroke="#d81e20" stroke-width="2.4"/><ellipse cx="1852.7" cy="1005.6" rx="9.45" ry="9.88" stroke="#d81e20" stroke-width="2.4"/><ellipse cx="1879.05" cy="1016.5" rx="9.45" ry="9.88" stroke="#d81e20" stroke-width="2.4"/><ellipse cx="1905.4" cy="1039.5" rx="9.45" ry="9.88" stroke="#d81e20" stroke-width="2.4"/><ellipse cx="1931.75" cy="1052.8" rx="9.45" ry="9.88" stroke="#d81e20" stroke-width="2.4"/><ellipse cx="1958.1" cy="1070.5" rx="9.45" ry="9.88" stroke="#d81e20" stroke-width="2.4"/><ellipse cx="1984.45" cy="1088.5" rx="9.45" ry="9.88" stroke="#d81e20" stroke-width="2.4"/><ellipse cx="2010.8" cy="1117.5" rx="9.45" ry="9.88" stroke="#d81e20" stroke-width="2.4"/><ellipse cx="2037.15" cy="1131.3" rx="9.45" ry="9.88" stroke="#d81e20" stroke-width="2.4"/><ellipse cx="2063.5" cy="1153" rx="9.45" ry="9.88" stroke="#d81e20" stroke-width="2.4"/><ellipse cx="2089.85" cy="1167.5" rx="9.45" ry="9.88" stroke="#d81e20" stroke-width="2.4"/><ellipse cx="2116.2" cy="1193" rx="9.45" ry="9.88" stroke="#d81e20" stroke-width="2.4"/><path d="M1357.34 1454.41L1373.11 1410.81M1384.68 1382.02L1398.47 1350.88M1408.71 1321.64L1427.14 1251.56M1438.3 1222.81L1450.25 1200.09M1462.64 1171.75L1478.61 1126.65M1491.27 1098.47L1502.68 1077.83M1520.41 1052.93L1526.24 1046.47M1545.11 1022.33L1554.24 1008.77M1574.16 985.78L1577.89 982.42M1785.64 971.83L1788.01 973.67M1839.15 998.97L1839.9 999.43M1890 1025.34L1894.45 1029.66M1944.39 1061.45L1945.46 1062.15M1970.51 1079.21L1972.04 1080.29M1994.89 1100.18L2000.36 1106.02M2023.87 1124.79L2024.08 1124.91M2049.29 1141.62L2051.36 1143.18M2100.84 1177.19L2105.21 1181.41" stroke="#42b549" stroke-width="5.1" stroke-linecap="round"/><polygon points="1328.34,1498.63 1340.13,1511.07 1328.34,1523.5 1316.54,1511.07" stroke="#3fa648" stroke-width="2.4"/><polygon points="1330.97,1493.88 1342.77,1506.32 1330.97,1518.75 1319.17,1506.32" stroke="#3fa648" stroke-width="2.4"/><polygon points="1333.61,1488.89 1345.4,1501.33 1333.61,1513.77 1321.81,1501.33" stroke="#3fa648" stroke-width="2.4"/><polygon points="1336.24,1482.48 1348.04,1494.92 1336.24,1507.35 1324.44,1494.92" stroke="#3fa648" stroke-width="2.4"/><polygon points="1338.88,1478.92 1350.67,1491.35 1338.88,1503.79 1327.08,1491.35" stroke="#3fa648" stroke-width="2.4"/><polygon points="1341.51,1475.47 1353.31,1487.91 1341.51,1500.35 1329.71,1487.91" stroke="#3fa648" stroke-width="2.4"/><polygon points="1344.14,1470.25 1355.94,1482.68 1344.14,1495.12 1332.35,1482.68" stroke="#3fa648" stroke-width="2.4"/><polygon points="1346.78,1465.02 1358.58,1477.46 1346.78,1489.89 1334.98,1477.46" stroke="#3fa648" stroke-width="2.4"/><polygon points="1349.41,1457.54 1361.21,1469.98 1349.41,1482.41 1337.62,1469.98" stroke="#3fa648" stroke-width="2.4"/><polygon points="1352.05,1456.59 1363.85,1469.03 1352.05,1481.46 1340.25,1469.03" stroke="#3fa648" stroke-width="2.4"/><polygon points="1378.4,1383.76 1390.2,1396.2 1378.4,1408.64 1366.6,1396.2" stroke="#3fa648" stroke-width="2.4"/><polygon points="1404.75,1324.26 1416.55,1336.7 1404.75,1349.14 1392.95,1336.7" stroke="#3fa648" stroke-width="2.4"/><polygon points="1431.1,1224.06 1442.9,1236.5 1431.1,1248.94 1419.3,1236.5" stroke="#3fa648" stroke-width="2.4"/><polygon points="1457.45,1173.96 1469.25,1186.4 1457.45,1198.84 1445.65,1186.4" stroke="#3fa648" stroke-width="2.4"/><polygon points="1483.8,1099.56 1495.6,1112 1483.8,1124.44 1472,1112" stroke="#3fa648" stroke-width="2.4"/><polygon points="1510.15,1051.86 1521.95,1064.3 1510.15,1076.74 1498.35,1064.3" stroke="#3fa648" stroke-width="2.4"/><polygon points="1536.5,1022.66 1548.3,1035.1 1536.5,1047.54 1524.7,1035.1" stroke="#3fa648" stroke-width="2.4"/><polygon points="1562.85,983.56 1574.65,996 1562.85,1008.44 1551.05,996" stroke="#3fa648" stroke-width="2.4"/><polygon points="1589.2,959.76 1601,972.2 1589.2,984.64 1577.4,972.2" stroke="#3fa648" stroke-width="2.4"/><polygon points="1615.55,946.86 1627.35,959.3 1615.55,971.74 1603.75,959.3" stroke="#3fa648" stroke-width="2.4"/><polygon points="1641.9,939.66 1653.7,952.1 1641.9,964.54 1630.1,952.1" stroke="#3fa648" stroke-width="2.4"/><polygon points="1668.25,932.26 1680.05,944.7 1668.25,957.14 1656.45,944.7" stroke="#3fa648" stroke-width="2.4"/><polygon points="1694.6,933.26 1706.4,945.7 1694.6,958.14 1682.8,945.7" stroke="#3fa648" stroke-width="2.4"/><polygon points="1720.95,937.46 1732.75,949.9 1720.95,962.34 1709.15,949.9" stroke="#3fa648" stroke-width="2.4"/><polygon points="1747.3,946.66 1759.1,959.1 1747.3,971.54 1735.5,959.1" stroke="#3fa648" stroke-width="2.4"/><polygon points="1773.65,950.06 1785.45,962.5 1773.65,974.94 1761.85,962.5" stroke="#3fa648" stroke-width="2.4"/><polygon points="1800,970.56 1811.8,983 1800,995.44 1788.2,983" stroke="#3fa648" stroke-width="2.4"/><polygon points="1826.35,978.46 1838.15,990.9 1826.35,1003.34 1814.55,990.9" stroke="#3fa648" stroke-width="2.4"/><polygon points="1852.7,995.06 1864.5,1007.5 1852.7,1019.94 1840.9,1007.5" stroke="#3fa648" stroke-width="2.4"/><polygon points="1879.05,1002.26 1890.85,1014.7 1879.05,1027.14 1867.25,1014.7" stroke="#3fa648" stroke-width="2.4"/><polygon points="1905.4,1027.86 1917.2,1040.3 1905.4,1052.74 1893.6,1040.3" stroke="#3fa648" stroke-width="2.4"/><polygon points="1931.75,1040.66 1943.55,1053.1 1931.75,1065.54 1919.95,1053.1" stroke="#3fa648" stroke-width="2.4"/><polygon points="1958.1,1058.06 1969.9,1070.5 1958.1,1082.94 1946.3,1070.5" stroke="#3fa648" stroke-width="2.4"/><polygon points="1984.45,1076.56 1996.25,1089 1984.45,1101.44 1972.65,1089" stroke="#3fa648" stroke-width="2.4"/><polygon points="2010.8,1104.76 2022.6,1117.2 2010.8,1129.64 1999,1117.2" stroke="#3fa648" stroke-width="2.4"/><polygon points="2037.15,1120.06 2048.95,1132.5 2037.15,1144.94 2025.35,1132.5" stroke="#3fa648" stroke-width="2.4"/><polygon points="2063.5,1139.86 2075.3,1152.3 2063.5,1164.74 2051.7,1152.3" stroke="#3fa648" stroke-width="2.4"/><polygon points="2089.85,1154.16 2101.65,1166.6 2089.85,1179.04 2078.05,1166.6" stroke="#3fa648" stroke-width="2.4"/><polygon points="2116.2,1179.56 2128,1192 2116.2,1204.44 2104.4,1192" stroke="#3fa648" stroke-width="2.4"/><path d="M1356.79 1464.42L1373.66 1411.62M1384.66 1382.61L1398.49 1351.29M1408.72 1322.04L1427.13 1252.06M1437.73 1223L1450.82 1195.4M1462.99 1166.89L1478.26 1126.91M1491.27 1098.87L1502.68 1078.23M1518.49 1051.73L1528.16 1036.67M1546.36 1011.95L1552.99 1004.05M1574.78 982.88L1577.27 980.92M1786.27 972.38L1787.38 973.12M1838.51 995.29L1840.54 996.81M1890.63 1026.59L1893.82 1029.31M1944.28 1061.11L1945.57 1061.99M1970.68 1078.95L1971.87 1079.75M1994.89 1099.38L2000.36 1105.22M2048.87 1139.4L2051.78 1141.8M2076.39 1159.42L2076.96 1159.78M2100.86 1178.27L2105.19 1182.43" stroke="#2f6fe4" stroke-width="5.1" stroke-linecap="round"/><polygon points="1328.34,1516.58 1337.64,1522.2 1337.64,1533.43 1328.34,1539.05 1319.03,1533.43 1319.03,1522.2" stroke="#2f6bd6" stroke-width="2.4"/><polygon points="1330.97,1512.54 1340.28,1518.16 1340.28,1529.39 1330.97,1535.01 1321.66,1529.39 1321.66,1518.16" stroke="#2f6bd6" stroke-width="2.4"/><polygon points="1333.61,1508.03 1342.91,1513.65 1342.91,1524.88 1333.61,1530.5 1324.3,1524.88 1324.3,1513.65" stroke="#2f6bd6" stroke-width="2.4"/><polygon points="1336.24,1501.73 1345.55,1507.35 1345.55,1518.59 1336.24,1524.2 1326.93,1518.59 1326.93,1507.35" stroke="#2f6bd6" stroke-width="2.4"/><polygon points="1338.88,1497.58 1348.18,1503.2 1348.18,1514.43 1338.88,1520.05 1329.57,1514.43 1329.57,1503.2" stroke="#2f6bd6" stroke-width="2.4"/><polygon points="1341.51,1493.9 1350.82,1499.51 1350.82,1510.75 1341.51,1516.36 1332.2,1510.75 1332.2,1499.51" stroke="#2f6bd6" stroke-width="2.4"/><polygon points="1344.14,1488.67 1353.45,1494.29 1353.45,1505.52 1344.14,1511.14 1334.84,1505.52 1334.84,1494.29" stroke="#2f6bd6" stroke-width="2.4"/><polygon points="1346.78,1483.09 1356.09,1488.71 1356.09,1499.94 1346.78,1505.56 1337.47,1499.94 1337.47,1488.71" stroke="#2f6bd6" stroke-width="2.4"/><polygon points="1349.41,1477.39 1358.72,1483.01 1358.72,1494.24 1349.41,1499.86 1340.11,1494.24 1340.11,1483.01" stroke="#2f6bd6" stroke-width="2.4"/><polygon points="1352.05,1468.01 1361.36,1473.62 1361.36,1484.86 1352.05,1490.47 1342.74,1484.86 1342.74,1473.62" stroke="#2f6bd6" stroke-width="2.4"/><polygon points="1378.4,1385.57 1387.71,1391.18 1387.71,1402.42 1378.4,1408.03 1369.09,1402.42 1369.09,1391.18" stroke="#2f6bd6" stroke-width="2.4"/><polygon points="1404.75,1325.87 1414.06,1331.48 1414.06,1342.72 1404.75,1348.33 1395.44,1342.72 1395.44,1331.48" stroke="#2f6bd6" stroke-width="2.4"/><polygon points="1431.1,1225.77 1440.41,1231.38 1440.41,1242.62 1431.1,1248.23 1421.79,1242.62 1421.79,1231.38" stroke="#2f6bd6" stroke-width="2.4"/><polygon points="1457.45,1170.17 1466.76,1175.78 1466.76,1187.02 1457.45,1192.63 1448.14,1187.02 1448.14,1175.78" stroke="#2f6bd6" stroke-width="2.4"/><polygon points="1483.8,1101.17 1493.11,1106.78 1493.11,1118.02 1483.8,1123.63 1474.49,1118.02 1474.49,1106.78" stroke="#2f6bd6" stroke-width="2.4"/><polygon points="1510.15,1053.47 1519.46,1059.08 1519.46,1070.32 1510.15,1075.93 1500.84,1070.32 1500.84,1059.08" stroke="#2f6bd6" stroke-width="2.4"/><polygon points="1536.5,1012.47 1545.81,1018.08 1545.81,1029.32 1536.5,1034.93 1527.19,1029.32 1527.19,1018.08" stroke="#2f6bd6" stroke-width="2.4"/><polygon points="1562.85,981.07 1572.16,986.68 1572.16,997.92 1562.85,1003.53 1553.54,997.92 1553.54,986.68" stroke="#2f6bd6" stroke-width="2.4"/><polygon points="1589.2,960.27 1598.51,965.88 1598.51,977.12 1589.2,982.73 1579.89,977.12 1579.89,965.88" stroke="#2f6bd6" stroke-width="2.4"/><polygon points="1615.55,946.87 1624.86,952.48 1624.86,963.72 1615.55,969.33 1606.24,963.72 1606.24,952.48" stroke="#2f6bd6" stroke-width="2.4"/><polygon points="1641.9,939.37 1651.21,944.98 1651.21,956.22 1641.9,961.83 1632.59,956.22 1632.59,944.98" stroke="#2f6bd6" stroke-width="2.4"/><polygon points="1668.25,931.17 1677.56,936.78 1677.56,948.02 1668.25,953.63 1658.94,948.02 1658.94,936.78" stroke="#2f6bd6" stroke-width="2.4"/><polygon points="1694.6,934.17 1703.91,939.78 1703.91,951.02 1694.6,956.63 1685.29,951.02 1685.29,939.78" stroke="#2f6bd6" stroke-width="2.4"/><polygon points="1720.95,936.37 1730.26,941.98 1730.26,953.22 1720.95,958.83 1711.64,953.22 1711.64,941.98" stroke="#2f6bd6" stroke-width="2.4"/><polygon points="1747.3,946.07 1756.61,951.68 1756.61,962.92 1747.3,968.53 1737.99,962.92 1737.99,951.68" stroke="#2f6bd6" stroke-width="2.4"/><polygon points="1773.65,952.77 1782.96,958.38 1782.96,969.62 1773.65,975.23 1764.34,969.62 1764.34,958.38" stroke="#2f6bd6" stroke-width="2.4"/><polygon points="1800,970.27 1809.31,975.88 1809.31,987.12 1800,992.73 1790.69,987.12 1790.69,975.88" stroke="#2f6bd6" stroke-width="2.4"/><polygon points="1826.35,974.97 1835.66,980.58 1835.66,991.82 1826.35,997.43 1817.04,991.82 1817.04,980.58" stroke="#2f6bd6" stroke-width="2.4"/><polygon points="1852.7,994.67 1862.01,1000.28 1862.01,1011.52 1852.7,1017.13 1843.39,1011.52 1843.39,1000.28" stroke="#2f6bd6" stroke-width="2.4"/><polygon points="1879.05,1005.47 1888.36,1011.08 1888.36,1022.32 1879.05,1027.93 1869.74,1022.32 1869.74,1011.08" stroke="#2f6bd6" stroke-width="2.4"/><polygon points="1905.4,1027.97 1914.71,1033.58 1914.71,1044.82 1905.4,1050.43 1896.09,1044.82 1896.09,1033.58" stroke="#2f6bd6" stroke-width="2.4"/><polygon points="1931.75,1041.37 1941.06,1046.98 1941.06,1058.22 1931.75,1063.83 1922.44,1058.22 1922.44,1046.98" stroke="#2f6bd6" stroke-width="2.4"/><polygon points="1958.1,1059.27 1967.41,1064.88 1967.41,1076.12 1958.1,1081.73 1948.79,1076.12 1948.79,1064.88" stroke="#2f6bd6" stroke-width="2.4"/><polygon points="1984.45,1076.97 1993.76,1082.58 1993.76,1093.82 1984.45,1099.43 1975.14,1093.82 1975.14,1082.58" stroke="#2f6bd6" stroke-width="2.4"/><polygon points="2010.8,1105.17 2020.11,1110.78 2020.11,1122.02 2010.8,1127.63 2001.49,1122.02 2001.49,1110.78" stroke="#2f6bd6" stroke-width="2.4"/><polygon points="2037.15,1118.47 2046.46,1124.08 2046.46,1135.32 2037.15,1140.93 2027.84,1135.32 2027.84,1124.08" stroke="#2f6bd6" stroke-width="2.4"/><polygon points="2063.5,1140.27 2072.81,1145.88 2072.81,1157.12 2063.5,1162.73 2054.19,1157.12 2054.19,1145.88" stroke="#2f6bd6" stroke-width="2.4"/><polygon points="2089.85,1156.47 2099.16,1162.08 2099.16,1173.32 2089.85,1178.93 2080.54,1173.32 2080.54,1162.08" stroke="#2f6bd6" stroke-width="2.4"/><polygon points="2116.2,1181.77 2125.51,1187.38 2125.51,1198.62 2116.2,1204.23 2106.89,1198.62 2106.89,1187.38" stroke="#2f6bd6" stroke-width="2.4"/></g><g clip-path="url(#id)" fill="none"><path d="M2013.42 1222.3V1523" stroke="#000" stroke-width="4.8" stroke-dasharray="23.9 21.6"/><path d="M1712.78 1470.98L1766.63 1467.82M1784.37 1466.43L1808.55 1464.07M1826.22 1461.98L1838.31 1460.32M1855.83 1457.21L1861.49 1455.99M1878.92 1452.38L1880.29 1452.12M1949.37 1430.62L2005.85 1395.68M2019.07 1384.13L2049.65 1346.97M2058.29 1331.71L2082.05 1264.89" stroke="#ea1b1b" stroke-width="5.2" stroke-linecap="round"/><circle cx="1703.9" cy="1471.5" r="5.5" stroke="#d81e20" stroke-width="1.25"/><circle cx="1775.52" cy="1467.3" r="5.5" stroke="#d81e20" stroke-width="1.25"/><circle cx="1817.41" cy="1463.2" r="5.5" stroke="#d81e20" stroke-width="1.25"/><circle cx="1847.13" cy="1459.1" r="5.5" stroke="#d81e20" stroke-width="1.25"/><circle cx="1870.18" cy="1454.1" r="5.5" stroke="#d81e20" stroke-width="1.25"/><circle cx="1889.02" cy="1450.4" r="5.5" stroke="#d81e20" stroke-width="1.25"/><circle cx="1904.95" cy="1446.6" r="5.5" stroke="#d81e20" stroke-width="1.25"/><circle cx="1918.75" cy="1442.2" r="5.5" stroke="#d81e20" stroke-width="1.25"/><circle cx="1930.91" cy="1438.8" r="5.5" stroke="#d81e20" stroke-width="1.25"/><circle cx="1941.8" cy="1435.3" r="5.5" stroke="#d81e20" stroke-width="1.25"/><circle cx="2013.42" cy="1391" r="5.5" stroke="#d81e20" stroke-width="1.25"/><circle cx="2055.31" cy="1340.1" r="5.5" stroke="#d81e20" stroke-width="1.25"/><circle cx="2085.03" cy="1256.5" r="5.5" stroke="#d81e20" stroke-width="1.25"/><path d="M1712.79 1486.3L1766.63 1483.3M1784.37 1481.91L1808.55 1479.49M1826.16 1477.01L1838.37 1474.79M1855.96 1472.05L1861.36 1471.35M1878.98 1468.85L1880.23 1468.65M1948.6 1445.66L2006.61 1396.74M2019.07 1384.13L2049.65 1346.97M2058.29 1331.71L2082.05 1264.89" stroke="#42b549" stroke-width="5.2" stroke-linecap="round"/><polygon points="1703.9,1479.9 1710.3,1486.8 1703.9,1493.7 1697.5,1486.8" stroke="#3fa648" stroke-width="1.25"/><polygon points="1775.52,1475.9 1781.92,1482.8 1775.52,1489.7 1769.12,1482.8" stroke="#3fa648" stroke-width="1.25"/><polygon points="1817.41,1471.7 1823.81,1478.6 1817.41,1485.5 1811.01,1478.6" stroke="#3fa648" stroke-width="1.25"/><polygon points="1847.13,1466.3 1853.53,1473.2 1847.13,1480.1 1840.73,1473.2" stroke="#3fa648" stroke-width="1.25"/><polygon points="1870.18,1463.3 1876.58,1470.2 1870.18,1477.1 1863.78,1470.2" stroke="#3fa648" stroke-width="1.25"/><polygon points="1889.02,1460.4 1895.42,1467.3 1889.02,1474.2 1882.62,1467.3" stroke="#3fa648" stroke-width="1.25"/><polygon points="1904.95,1456 1911.35,1462.9 1904.95,1469.8 1898.55,1462.9" stroke="#3fa648" stroke-width="1.25"/><polygon points="1918.75,1451.6 1925.15,1458.5 1918.75,1465.4 1912.35,1458.5" stroke="#3fa648" stroke-width="1.25"/><polygon points="1930.91,1445.3 1937.31,1452.2 1930.91,1459.1 1924.51,1452.2" stroke="#3fa648" stroke-width="1.25"/><polygon points="1941.8,1444.5 1948.2,1451.4 1941.8,1458.3 1935.4,1451.4" stroke="#3fa648" stroke-width="1.25"/><polygon points="2013.42,1384.1 2019.82,1391 2013.42,1397.9 2007.02,1391" stroke="#3fa648" stroke-width="1.25"/><polygon points="2055.31,1333.2 2061.71,1340.1 2055.31,1347 2048.91,1340.1" stroke="#3fa648" stroke-width="1.25"/><polygon points="2085.03,1249.6 2091.43,1256.5 2085.03,1263.4 2078.63,1256.5" stroke="#3fa648" stroke-width="1.25"/><path d="M1712.79 1500.48L1766.63 1497.92M1784.38 1496.7L1808.54 1494.5M1826.17 1492.14L1838.37 1489.96M1855.93 1487.06L1861.39 1486.24M1878.97 1483.45L1880.24 1483.25M1948.21 1453.82L2007.01 1397.18M2019.07 1384.13L2049.65 1346.97M2058.29 1331.71L2082.05 1264.89" stroke="#2f6fe4" stroke-width="5.2" stroke-linecap="round"/><polygon points="1703.9,1494.6 1709.36,1497.75 1709.36,1504.05 1703.9,1507.2 1698.44,1504.05 1698.44,1497.75" stroke="#2f6bd6" stroke-width="1.25"/><polygon points="1775.52,1491.2 1780.97,1494.35 1780.97,1500.65 1775.52,1503.8 1770.06,1500.65 1770.06,1494.35" stroke="#2f6bd6" stroke-width="1.25"/><polygon points="1817.41,1487.4 1822.86,1490.55 1822.86,1496.85 1817.41,1500 1811.95,1496.85 1811.95,1490.55" stroke="#2f6bd6" stroke-width="1.25"/><polygon points="1847.13,1482.1 1852.59,1485.25 1852.59,1491.55 1847.13,1494.7 1841.67,1491.55 1841.67,1485.25" stroke="#2f6bd6" stroke-width="1.25"/><polygon points="1870.18,1478.6 1875.64,1481.75 1875.64,1488.05 1870.18,1491.2 1864.73,1488.05 1864.73,1481.75" stroke="#2f6bd6" stroke-width="1.25"/><polygon points="1889.02,1475.5 1894.48,1478.65 1894.48,1484.95 1889.02,1488.1 1883.57,1484.95 1883.57,1478.65" stroke="#2f6bd6" stroke-width="1.25"/><polygon points="1904.95,1471.1 1910.4,1474.25 1910.4,1480.55 1904.95,1483.7 1899.49,1480.55 1899.49,1474.25" stroke="#2f6bd6" stroke-width="1.25"/><polygon points="1918.75,1466.4 1924.2,1469.55 1924.2,1475.85 1918.75,1479 1913.29,1475.85 1913.29,1469.55" stroke="#2f6bd6" stroke-width="1.25"/><polygon points="1930.91,1461.6 1936.37,1464.75 1936.37,1471.05 1930.91,1474.2 1925.46,1471.05 1925.46,1464.75" stroke="#2f6bd6" stroke-width="1.25"/><polygon points="1941.8,1453.7 1947.26,1456.85 1947.26,1463.15 1941.8,1466.3 1936.34,1463.15 1936.34,1456.85" stroke="#2f6bd6" stroke-width="1.25"/><polygon points="2013.42,1384.7 2018.87,1387.85 2018.87,1394.15 2013.42,1397.3 2007.96,1394.15 2007.96,1387.85" stroke="#2f6bd6" stroke-width="1.25"/><polygon points="2055.31,1333.8 2060.76,1336.95 2060.76,1343.25 2055.31,1346.4 2049.85,1343.25 2049.85,1336.95" stroke="#2f6bd6" stroke-width="1.25"/><polygon points="2085.03,1250.2 2090.49,1253.35 2090.49,1259.65 2085.03,1262.8 2079.57,1259.65 2079.57,1253.35" stroke="#2f6bd6" stroke-width="1.25"/></g>
<!-- labels -->
<text x="-4" y="44" font-size="62" font-weight="bold">a</text><text x="1114.2" y="44" font-size="62" font-weight="bold">b</text><text x="-2.2" y="912" font-size="62" font-weight="bold">c</text><text x="1113.8" y="911.6" font-size="62" font-weight="bold">d</text><text x="632.5" y="855.3" font-size="66.5" font-style="italic" transform="scale(0.96 1)">T</text><text x="1776.56" y="856.9" font-size="66.5" font-style="italic" transform="scale(0.96 1)">T</text><text x="632.6" y="1728.3" font-size="66.5" font-style="italic" transform="scale(0.96 1)">T</text><text x="1776.46" y="1726.8" font-size="66.5" font-style="italic" transform="scale(0.96 1)">T</text><g transform="translate(86.4 373.2) rotate(-90) scale(1.06 1)"><text x="0" y="0" font-size="63.2" text-anchor="middle" font-style="italic">E</text></g><g transform="translate(1205.6 373.9) rotate(-90) scale(1.07 1)"><text x="0" y="0" font-size="73.6" text-anchor="middle" font-style="italic">p</text></g><g transform="translate(110 1243.3) rotate(-90) scale(1.122 1)"><text x="0" y="0" font-size="63.4" text-anchor="middle" font-style="italic" class="sf">&#920;</text></g><g transform="translate(1195.5 1276.8) rotate(-90) scale(1.17 1)"><text x="0" y="0" font-size="60.3" font-style="italic" class="sf">&#936;</text></g><g transform="translate(1213.7 1236.2) rotate(-90) scale(1.05 1)"><text x="0" y="0" font-size="43.3">6</text></g><text y="133.7" font-size="45"><tspan x="245.6">d</tspan><tspan x="272.3" font-style="italic">T</tspan><tspan x="295.3">/</tspan><tspan x="306.9">d</tspan><tspan x="332.3" font-style="italic">t</tspan><tspan x="352.9">=</tspan></text><text transform="scale(0.95 1)" x="410" y="133.8" font-size="46.2" letter-spacing="-0.74">10<tspan font-size="32" dy="-19.2" dx="-0.6">&#8722;</tspan><tspan font-size="32" dy="-2.7">10</tspan></text><path d="M509.7 117.8H544.4M572.8 117.8H607.7" stroke="#ea1b1b" stroke-width="5.1" stroke-linecap="round" fill="none"/><g fill="none"><ellipse cx="558.7" cy="118" rx="9.35" ry="9.77" stroke="#d81e20" stroke-width="2.2"/></g><text transform="scale(0.95 1)" x="410" y="197.5" font-size="46.2" letter-spacing="-0.74">10<tspan font-size="32" dy="-19.2" dx="-0.6">&#8722;</tspan><tspan font-size="32" dy="-2.7">11</tspan></text><path d="M509.7 181.5H544.4M572.8 181.5H607.7" stroke="#42b549" stroke-width="5.1" stroke-linecap="round" fill="none"/><g fill="none"><polygon points="558.7,169.16 569.6,181.7 558.7,194.24 547.8,181.7" stroke="#3fa648" stroke-width="2.2"/></g><text transform="scale(0.95 1)" x="410" y="275.4" font-size="46.2" letter-spacing="-0.74">10<tspan font-size="32" dy="-19.2" dx="-0.6">&#8722;</tspan><tspan font-size="32" dy="-2.7">12</tspan></text><path d="M509.7 259.4H544.4M572.8 259.4H607.7" stroke="#2f6fe4" stroke-width="5.1" stroke-linecap="round" fill="none"/><g fill="none"><polygon points="558.7,248.47 567.92,254.04 567.92,265.16 558.7,270.73 549.48,265.16 549.48,254.04" stroke="#2f6bd6" stroke-width="2.2"/></g>
</svg>
</body>
</html>
